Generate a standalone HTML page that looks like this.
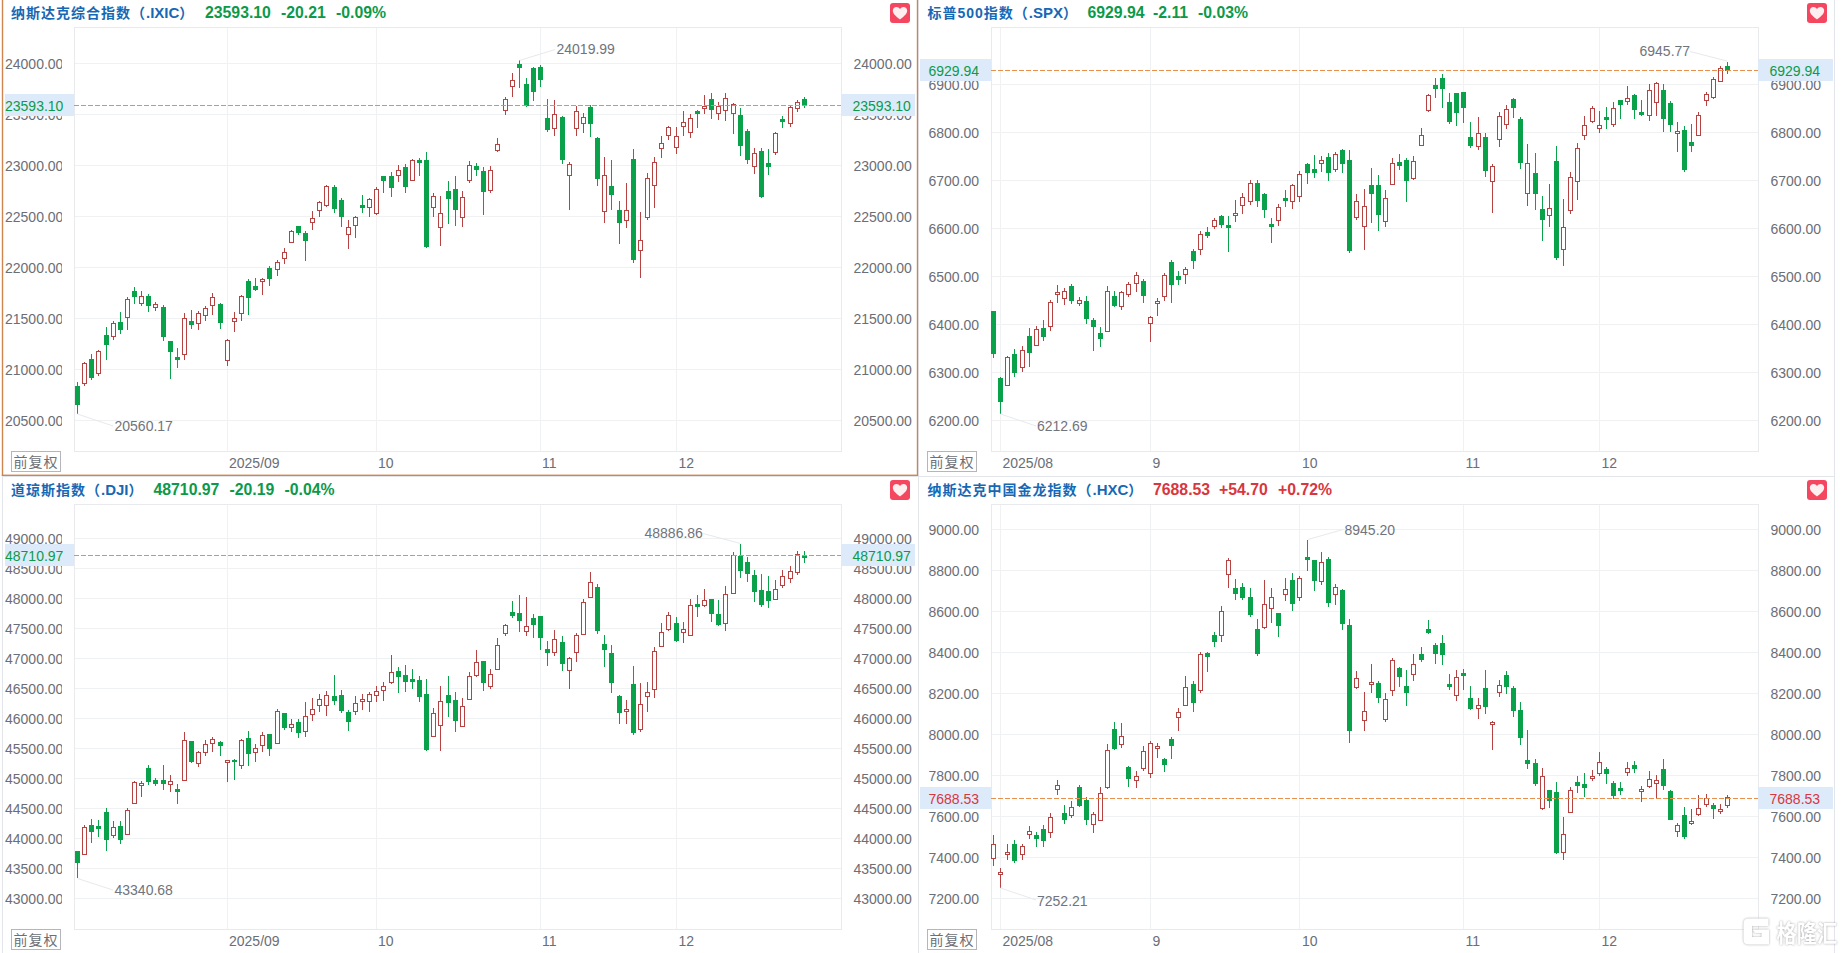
<!DOCTYPE html>
<html lang="zh-CN"><head><meta charset="utf-8"><title>指数K线</title>
<style>
html,body{margin:0;padding:0;background:#fff;}
body{width:1845px;height:953px;overflow:hidden;}
svg{display:block;font-family:"Liberation Sans","Noto Sans CJK SC",sans-serif;}
.ax{font-size:14px;fill:#6b6e76;}
.tt{font-weight:bold;fill:#1768b4;}
.cj{font-size:14px;letter-spacing:1px;}
.la{font-size:15px;}
.pr{font-size:15.8px;font-weight:bold;}
.fq{font-size:14px;letter-spacing:1px;fill:#6c6f75;}
.wm{font-size:23.5px;font-weight:bold;fill:#fff;}
</style></head><body>
<svg width="1845" height="953" viewBox="0 0 1845 953">
<rect width="1845" height="953" fill="#fff"/>
<g shape-rendering="crispEdges">
<rect x="2" y="476" width="1" height="477" fill="#e2e5ea"/>
<rect x="918" y="0" width="1" height="953" fill="#e2e5ea"/>
<rect x="1834" y="0" width="1" height="953" fill="#e2e5ea"/>
<rect x="2" y="476" width="1833" height="1" fill="#e2e5ea"/>
</g>
<g id="p1">
<rect x="74" y="63" width="767" height="1" fill="#f0f1f3"/>
<rect x="74" y="114" width="767" height="1" fill="#f0f1f3"/>
<rect x="74" y="165" width="767" height="1" fill="#f0f1f3"/>
<rect x="74" y="216" width="767" height="1" fill="#f0f1f3"/>
<rect x="74" y="267" width="767" height="1" fill="#f0f1f3"/>
<rect x="74" y="318" width="767" height="1" fill="#f0f1f3"/>
<rect x="74" y="369" width="767" height="1" fill="#f0f1f3"/>
<rect x="74" y="420" width="767" height="1" fill="#f0f1f3"/>
<rect x="227" y="27" width="1" height="424" fill="#f0f1f3"/>
<rect x="376" y="27" width="1" height="424" fill="#f0f1f3"/>
<rect x="540" y="27" width="1" height="424" fill="#f0f1f3"/>
<rect x="676" y="27" width="1" height="424" fill="#f0f1f3"/>
<rect x="74.5" y="27.5" width="767" height="424" fill="none" stroke="#e8eaed" stroke-width="1"/>
<clipPath id="cl1"><rect x="0" y="17" width="62" height="444"/></clipPath>
<g clip-path="url(#cl1)">
<text x="5" y="69" class="ax">24000.00</text>
<text x="5" y="120" class="ax">23500.00</text>
<text x="5" y="171" class="ax">23000.00</text>
<text x="5" y="222" class="ax">22500.00</text>
<text x="5" y="273" class="ax">22000.00</text>
<text x="5" y="324" class="ax">21500.00</text>
<text x="5" y="375" class="ax">21000.00</text>
<text x="5" y="426" class="ax">20500.00</text>
</g>
<text x="853.5" y="69" class="ax">24000.00</text>
<text x="853.5" y="120" class="ax">23500.00</text>
<text x="853.5" y="171" class="ax">23000.00</text>
<text x="853.5" y="222" class="ax">22500.00</text>
<text x="853.5" y="273" class="ax">22000.00</text>
<text x="853.5" y="324" class="ax">21500.00</text>
<text x="853.5" y="375" class="ax">21000.00</text>
<text x="853.5" y="426" class="ax">20500.00</text>
<text x="229" y="467.7" class="ax">2025/09</text>
<text x="378" y="467.7" class="ax">10</text>
<text x="542" y="467.7" class="ax">11</text>
<text x="678.5" y="467.7" class="ax">12</text>
<g shape-rendering="crispEdges">
<rect x="77.0" y="382" width="1" height="32" fill="#0aa14b"/>
<rect x="75.0" y="386" width="5" height="19" fill="#0aa14b"/>
<rect x="84.0" y="362" width="1" height="1" fill="#b64342"/>
<rect x="84.0" y="384" width="1" height="2" fill="#b64342"/>
<rect x="82.5" y="363.5" width="4" height="20" fill="#fff" stroke="#b64342" stroke-width="1"/>
<rect x="91.0" y="354" width="1" height="26" fill="#0aa14b"/>
<rect x="89.0" y="359" width="5" height="19" fill="#0aa14b"/>
<rect x="98.0" y="350" width="1" height="1" fill="#b64342"/>
<rect x="98.0" y="374" width="1" height="2" fill="#b64342"/>
<rect x="96.5" y="351.5" width="4" height="22" fill="#fff" stroke="#b64342" stroke-width="1"/>
<rect x="106.0" y="327" width="1" height="33" fill="#0aa14b"/>
<rect x="104.0" y="335" width="5" height="10" fill="#0aa14b"/>
<rect x="113.0" y="321" width="1" height="2" fill="#b64342"/>
<rect x="113.0" y="337" width="1" height="3" fill="#b64342"/>
<rect x="111.5" y="323.5" width="4" height="13" fill="#fff" stroke="#b64342" stroke-width="1"/>
<rect x="120.0" y="312" width="1" height="22" fill="#0aa14b"/>
<rect x="118.0" y="322" width="5" height="8" fill="#0aa14b"/>
<rect x="127.0" y="297" width="1" height="2" fill="#b64342"/>
<rect x="127.0" y="318" width="1" height="12" fill="#b64342"/>
<rect x="125.5" y="299.5" width="4" height="18" fill="#fff" stroke="#b64342" stroke-width="1"/>
<rect x="134.0" y="287" width="1" height="17" fill="#0aa14b"/>
<rect x="132.0" y="291" width="5" height="6" fill="#0aa14b"/>
<rect x="141.0" y="291" width="1" height="5" fill="#b64342"/>
<rect x="141.0" y="304" width="1" height="2" fill="#b64342"/>
<rect x="139.5" y="296.5" width="4" height="7" fill="#fff" stroke="#b64342" stroke-width="1"/>
<rect x="148.0" y="294" width="1" height="18" fill="#0aa14b"/>
<rect x="146.0" y="296" width="5" height="10" fill="#0aa14b"/>
<rect x="155.0" y="302" width="1" height="2" fill="#b64342"/>
<rect x="155.0" y="308" width="1" height="3" fill="#b64342"/>
<rect x="153.5" y="304.5" width="4" height="3" fill="#fff" stroke="#b64342" stroke-width="1"/>
<rect x="163.0" y="305" width="1" height="36" fill="#0aa14b"/>
<rect x="161.0" y="307" width="5" height="30" fill="#0aa14b"/>
<rect x="170.0" y="341" width="1" height="38" fill="#0aa14b"/>
<rect x="168.0" y="341" width="5" height="11" fill="#0aa14b"/>
<rect x="177.0" y="348" width="1" height="20" fill="#0aa14b"/>
<rect x="175.0" y="357" width="5" height="3" fill="#0aa14b"/>
<rect x="184.0" y="313" width="1" height="5" fill="#b64342"/>
<rect x="184.0" y="355" width="1" height="5" fill="#b64342"/>
<rect x="182.5" y="318.5" width="4" height="36" fill="#fff" stroke="#b64342" stroke-width="1"/>
<rect x="191.0" y="310" width="1" height="19" fill="#0aa14b"/>
<rect x="189.0" y="321" width="5" height="4" fill="#0aa14b"/>
<rect x="198.0" y="311" width="1" height="2" fill="#b64342"/>
<rect x="198.0" y="324" width="1" height="6" fill="#b64342"/>
<rect x="196.5" y="313.5" width="4" height="10" fill="#fff" stroke="#b64342" stroke-width="1"/>
<rect x="205.0" y="306" width="1" height="2" fill="#b64342"/>
<rect x="205.0" y="316" width="1" height="5" fill="#b64342"/>
<rect x="203.5" y="308.5" width="4" height="7" fill="#fff" stroke="#b64342" stroke-width="1"/>
<rect x="212.0" y="293" width="1" height="4" fill="#b64342"/>
<rect x="212.0" y="306" width="1" height="9" fill="#b64342"/>
<rect x="210.5" y="297.5" width="4" height="8" fill="#fff" stroke="#b64342" stroke-width="1"/>
<rect x="220.0" y="303" width="1" height="26" fill="#0aa14b"/>
<rect x="218.0" y="304" width="5" height="19" fill="#0aa14b"/>
<rect x="227.0" y="339" width="1" height="1" fill="#b64342"/>
<rect x="227.0" y="361" width="1" height="5" fill="#b64342"/>
<rect x="225.5" y="340.5" width="4" height="20" fill="#fff" stroke="#b64342" stroke-width="1"/>
<rect x="234.0" y="312" width="1" height="6" fill="#b64342"/>
<rect x="234.0" y="322" width="1" height="10" fill="#b64342"/>
<rect x="232.5" y="318.5" width="4" height="3" fill="#fff" stroke="#b64342" stroke-width="1"/>
<rect x="241.0" y="295" width="1" height="1" fill="#b64342"/>
<rect x="241.0" y="314" width="1" height="7" fill="#b64342"/>
<rect x="239.5" y="296.5" width="4" height="17" fill="#fff" stroke="#b64342" stroke-width="1"/>
<rect x="248.0" y="279" width="1" height="36" fill="#0aa14b"/>
<rect x="246.0" y="281" width="5" height="17" fill="#0aa14b"/>
<rect x="255.0" y="278" width="1" height="13" fill="#0aa14b"/>
<rect x="253.0" y="286" width="5" height="4" fill="#0aa14b"/>
<rect x="262.0" y="278" width="1" height="1" fill="#b64342"/>
<rect x="262.0" y="282" width="1" height="13" fill="#b64342"/>
<rect x="260.5" y="279.5" width="4" height="2" fill="#fff" stroke="#b64342" stroke-width="1"/>
<rect x="269.0" y="266" width="1" height="20" fill="#0aa14b"/>
<rect x="267.0" y="268" width="5" height="11" fill="#0aa14b"/>
<rect x="277.0" y="260" width="1" height="2" fill="#b64342"/>
<rect x="277.0" y="270" width="1" height="6" fill="#b64342"/>
<rect x="275.5" y="262.5" width="4" height="7" fill="#fff" stroke="#b64342" stroke-width="1"/>
<rect x="284.0" y="248" width="1" height="4" fill="#b64342"/>
<rect x="284.0" y="259" width="1" height="5" fill="#b64342"/>
<rect x="282.5" y="252.5" width="4" height="6" fill="#fff" stroke="#b64342" stroke-width="1"/>
<rect x="291.0" y="230" width="1" height="1" fill="#b64342"/>
<rect x="289.5" y="231.5" width="4" height="11" fill="#fff" stroke="#b64342" stroke-width="1"/>
<rect x="298.0" y="226" width="1" height="9" fill="#0aa14b"/>
<rect x="296.0" y="226" width="5" height="7" fill="#0aa14b"/>
<rect x="305.0" y="231" width="1" height="30" fill="#0aa14b"/>
<rect x="303.0" y="233" width="5" height="8" fill="#0aa14b"/>
<rect x="312.0" y="211" width="1" height="7" fill="#b64342"/>
<rect x="312.0" y="223" width="1" height="7" fill="#b64342"/>
<rect x="310.5" y="218.5" width="4" height="4" fill="#fff" stroke="#b64342" stroke-width="1"/>
<rect x="319.0" y="201" width="1" height="1" fill="#b64342"/>
<rect x="319.0" y="211" width="1" height="6" fill="#b64342"/>
<rect x="317.5" y="202.5" width="4" height="8" fill="#fff" stroke="#b64342" stroke-width="1"/>
<rect x="326.0" y="185" width="1" height="1" fill="#b64342"/>
<rect x="326.0" y="206" width="1" height="1" fill="#b64342"/>
<rect x="324.5" y="186.5" width="4" height="19" fill="#fff" stroke="#b64342" stroke-width="1"/>
<rect x="334.0" y="185" width="1" height="28" fill="#0aa14b"/>
<rect x="332.0" y="187" width="5" height="22" fill="#0aa14b"/>
<rect x="341.0" y="198" width="1" height="29" fill="#0aa14b"/>
<rect x="339.0" y="200" width="5" height="17" fill="#0aa14b"/>
<rect x="348.0" y="220" width="1" height="7" fill="#b64342"/>
<rect x="348.0" y="235" width="1" height="14" fill="#b64342"/>
<rect x="346.5" y="227.5" width="4" height="7" fill="#fff" stroke="#b64342" stroke-width="1"/>
<rect x="355.0" y="216" width="1" height="1" fill="#b64342"/>
<rect x="355.0" y="226" width="1" height="12" fill="#b64342"/>
<rect x="353.5" y="217.5" width="4" height="8" fill="#fff" stroke="#b64342" stroke-width="1"/>
<rect x="362.0" y="195" width="1" height="18" fill="#0aa14b"/>
<rect x="360.0" y="205" width="5" height="3" fill="#0aa14b"/>
<rect x="369.0" y="198" width="1" height="1" fill="#b64342"/>
<rect x="369.0" y="208" width="1" height="9" fill="#b64342"/>
<rect x="367.5" y="199.5" width="4" height="8" fill="#fff" stroke="#b64342" stroke-width="1"/>
<rect x="376.0" y="187" width="1" height="2" fill="#b64342"/>
<rect x="376.0" y="214" width="1" height="1" fill="#b64342"/>
<rect x="374.5" y="189.5" width="4" height="24" fill="#fff" stroke="#b64342" stroke-width="1"/>
<rect x="383.0" y="176" width="1" height="17" fill="#0aa14b"/>
<rect x="381.0" y="176" width="5" height="5" fill="#0aa14b"/>
<rect x="391.0" y="172" width="1" height="25" fill="#0aa14b"/>
<rect x="389.0" y="176" width="5" height="12" fill="#0aa14b"/>
<rect x="398.0" y="165" width="1" height="5" fill="#b64342"/>
<rect x="398.0" y="176" width="1" height="6" fill="#b64342"/>
<rect x="396.5" y="170.5" width="4" height="5" fill="#fff" stroke="#b64342" stroke-width="1"/>
<rect x="405.0" y="164" width="1" height="29" fill="#0aa14b"/>
<rect x="403.0" y="167" width="5" height="20" fill="#0aa14b"/>
<rect x="412.0" y="159" width="1" height="1" fill="#b64342"/>
<rect x="410.5" y="160.5" width="4" height="20" fill="#fff" stroke="#b64342" stroke-width="1"/>
<rect x="419.0" y="158" width="1" height="18" fill="#0aa14b"/>
<rect x="417.0" y="160" width="5" height="3" fill="#0aa14b"/>
<rect x="426.0" y="152" width="1" height="96" fill="#0aa14b"/>
<rect x="424.0" y="160" width="5" height="87" fill="#0aa14b"/>
<rect x="433.0" y="193" width="1" height="3" fill="#b64342"/>
<rect x="433.0" y="208" width="1" height="9" fill="#b64342"/>
<rect x="431.5" y="196.5" width="4" height="11" fill="#fff" stroke="#b64342" stroke-width="1"/>
<rect x="440.0" y="196" width="1" height="17" fill="#b64342"/>
<rect x="440.0" y="228" width="1" height="18" fill="#b64342"/>
<rect x="438.5" y="213.5" width="4" height="14" fill="#fff" stroke="#b64342" stroke-width="1"/>
<rect x="448.0" y="181" width="1" height="43" fill="#0aa14b"/>
<rect x="446.0" y="191" width="5" height="8" fill="#0aa14b"/>
<rect x="455.0" y="176" width="1" height="50" fill="#0aa14b"/>
<rect x="453.0" y="189" width="5" height="21" fill="#0aa14b"/>
<rect x="462.0" y="191" width="1" height="6" fill="#b64342"/>
<rect x="462.0" y="218" width="1" height="9" fill="#b64342"/>
<rect x="460.5" y="197.5" width="4" height="20" fill="#fff" stroke="#b64342" stroke-width="1"/>
<rect x="469.0" y="161" width="1" height="4" fill="#b64342"/>
<rect x="469.0" y="181" width="1" height="2" fill="#b64342"/>
<rect x="467.5" y="165.5" width="4" height="15" fill="#fff" stroke="#b64342" stroke-width="1"/>
<rect x="476.0" y="163" width="1" height="13" fill="#0aa14b"/>
<rect x="474.0" y="166" width="5" height="4" fill="#0aa14b"/>
<rect x="483.0" y="167" width="1" height="48" fill="#0aa14b"/>
<rect x="481.0" y="171" width="5" height="21" fill="#0aa14b"/>
<rect x="490.0" y="166" width="1" height="4" fill="#b64342"/>
<rect x="490.0" y="191" width="1" height="2" fill="#b64342"/>
<rect x="488.5" y="170.5" width="4" height="20" fill="#fff" stroke="#b64342" stroke-width="1"/>
<rect x="497.0" y="138" width="1" height="6" fill="#b64342"/>
<rect x="497.0" y="151" width="1" height="1" fill="#b64342"/>
<rect x="495.5" y="144.5" width="4" height="6" fill="#fff" stroke="#b64342" stroke-width="1"/>
<rect x="505.0" y="97" width="1" height="2" fill="#b64342"/>
<rect x="505.0" y="111" width="1" height="4" fill="#b64342"/>
<rect x="503.5" y="99.5" width="4" height="11" fill="#fff" stroke="#b64342" stroke-width="1"/>
<rect x="512.0" y="73" width="1" height="7" fill="#b64342"/>
<rect x="512.0" y="87" width="1" height="10" fill="#b64342"/>
<rect x="510.5" y="80.5" width="4" height="6" fill="#fff" stroke="#b64342" stroke-width="1"/>
<rect x="519.0" y="60" width="1" height="28" fill="#0aa14b"/>
<rect x="517.0" y="64" width="5" height="4" fill="#0aa14b"/>
<rect x="526.0" y="78" width="1" height="29" fill="#0aa14b"/>
<rect x="524.0" y="84" width="5" height="22" fill="#0aa14b"/>
<rect x="533.0" y="67" width="1" height="34" fill="#0aa14b"/>
<rect x="531.0" y="68" width="5" height="24" fill="#0aa14b"/>
<rect x="540.0" y="65" width="1" height="22" fill="#0aa14b"/>
<rect x="538.0" y="67" width="5" height="13" fill="#0aa14b"/>
<rect x="547.0" y="99" width="1" height="33" fill="#0aa14b"/>
<rect x="545.0" y="118" width="5" height="12" fill="#0aa14b"/>
<rect x="554.0" y="100" width="1" height="14" fill="#b64342"/>
<rect x="554.0" y="129" width="1" height="7" fill="#b64342"/>
<rect x="552.5" y="114.5" width="4" height="14" fill="#fff" stroke="#b64342" stroke-width="1"/>
<rect x="562.0" y="116" width="1" height="48" fill="#0aa14b"/>
<rect x="560.0" y="117" width="5" height="43" fill="#0aa14b"/>
<rect x="569.0" y="162" width="1" height="2" fill="#b64342"/>
<rect x="569.0" y="176" width="1" height="34" fill="#b64342"/>
<rect x="567.5" y="164.5" width="4" height="11" fill="#fff" stroke="#b64342" stroke-width="1"/>
<rect x="576.0" y="106" width="1" height="5" fill="#b64342"/>
<rect x="576.0" y="129" width="1" height="7" fill="#b64342"/>
<rect x="574.5" y="111.5" width="4" height="17" fill="#fff" stroke="#b64342" stroke-width="1"/>
<rect x="583.0" y="113" width="1" height="4" fill="#b64342"/>
<rect x="583.0" y="124" width="1" height="9" fill="#b64342"/>
<rect x="581.5" y="117.5" width="4" height="6" fill="#fff" stroke="#b64342" stroke-width="1"/>
<rect x="590.0" y="105" width="1" height="32" fill="#0aa14b"/>
<rect x="588.0" y="107" width="5" height="17" fill="#0aa14b"/>
<rect x="597.0" y="137" width="1" height="49" fill="#0aa14b"/>
<rect x="595.0" y="138" width="5" height="41" fill="#0aa14b"/>
<rect x="604.0" y="157" width="1" height="18" fill="#b64342"/>
<rect x="604.0" y="212" width="1" height="11" fill="#b64342"/>
<rect x="602.5" y="175.5" width="4" height="36" fill="#fff" stroke="#b64342" stroke-width="1"/>
<rect x="611.0" y="160" width="1" height="50" fill="#0aa14b"/>
<rect x="609.0" y="186" width="5" height="9" fill="#0aa14b"/>
<rect x="619.0" y="201" width="1" height="43" fill="#0aa14b"/>
<rect x="617.0" y="210" width="5" height="13" fill="#0aa14b"/>
<rect x="626.0" y="183" width="1" height="27" fill="#b64342"/>
<rect x="626.0" y="221" width="1" height="7" fill="#b64342"/>
<rect x="624.5" y="210.5" width="4" height="10" fill="#fff" stroke="#b64342" stroke-width="1"/>
<rect x="633.0" y="149" width="1" height="114" fill="#0aa14b"/>
<rect x="631.0" y="159" width="5" height="101" fill="#0aa14b"/>
<rect x="640.0" y="212" width="1" height="28" fill="#b64342"/>
<rect x="640.0" y="251" width="1" height="27" fill="#b64342"/>
<rect x="638.5" y="240.5" width="4" height="10" fill="#fff" stroke="#b64342" stroke-width="1"/>
<rect x="647.0" y="173" width="1" height="5" fill="#b64342"/>
<rect x="647.0" y="218" width="1" height="2" fill="#b64342"/>
<rect x="645.5" y="178.5" width="4" height="39" fill="#fff" stroke="#b64342" stroke-width="1"/>
<rect x="654.0" y="157" width="1" height="5" fill="#b64342"/>
<rect x="654.0" y="186" width="1" height="22" fill="#b64342"/>
<rect x="652.5" y="162.5" width="4" height="23" fill="#fff" stroke="#b64342" stroke-width="1"/>
<rect x="661.0" y="136" width="1" height="7" fill="#b64342"/>
<rect x="661.0" y="149" width="1" height="9" fill="#b64342"/>
<rect x="659.5" y="143.5" width="4" height="5" fill="#fff" stroke="#b64342" stroke-width="1"/>
<rect x="668.0" y="126" width="1" height="1" fill="#b64342"/>
<rect x="668.0" y="136" width="1" height="4" fill="#b64342"/>
<rect x="666.5" y="127.5" width="4" height="8" fill="#fff" stroke="#b64342" stroke-width="1"/>
<rect x="676.0" y="127" width="1" height="9" fill="#b64342"/>
<rect x="676.0" y="148" width="1" height="6" fill="#b64342"/>
<rect x="674.5" y="136.5" width="4" height="11" fill="#fff" stroke="#b64342" stroke-width="1"/>
<rect x="683.0" y="111" width="1" height="11" fill="#b64342"/>
<rect x="683.0" y="127" width="1" height="9" fill="#b64342"/>
<rect x="681.5" y="122.5" width="4" height="4" fill="#fff" stroke="#b64342" stroke-width="1"/>
<rect x="690.0" y="114" width="1" height="4" fill="#b64342"/>
<rect x="690.0" y="133" width="1" height="5" fill="#b64342"/>
<rect x="688.5" y="118.5" width="4" height="14" fill="#fff" stroke="#b64342" stroke-width="1"/>
<rect x="697.0" y="110" width="1" height="18" fill="#0aa14b"/>
<rect x="695.0" y="111" width="5" height="3" fill="#0aa14b"/>
<rect x="704.0" y="95" width="1" height="11" fill="#b64342"/>
<rect x="704.0" y="109" width="1" height="5" fill="#b64342"/>
<rect x="702.5" y="106.5" width="4" height="2" fill="#fff" stroke="#b64342" stroke-width="1"/>
<rect x="711.0" y="93" width="1" height="26" fill="#0aa14b"/>
<rect x="709.0" y="99" width="5" height="11" fill="#0aa14b"/>
<rect x="718.0" y="102" width="1" height="4" fill="#b64342"/>
<rect x="718.0" y="114" width="1" height="6" fill="#b64342"/>
<rect x="716.5" y="106.5" width="4" height="7" fill="#fff" stroke="#b64342" stroke-width="1"/>
<rect x="725.0" y="93" width="1" height="5" fill="#b64342"/>
<rect x="725.0" y="111" width="1" height="10" fill="#b64342"/>
<rect x="723.5" y="98.5" width="4" height="12" fill="#fff" stroke="#b64342" stroke-width="1"/>
<rect x="733.0" y="103" width="1" height="1" fill="#b64342"/>
<rect x="733.0" y="114" width="1" height="20" fill="#b64342"/>
<rect x="731.5" y="104.5" width="4" height="9" fill="#fff" stroke="#b64342" stroke-width="1"/>
<rect x="740.0" y="108" width="1" height="48" fill="#0aa14b"/>
<rect x="738.0" y="115" width="5" height="31" fill="#0aa14b"/>
<rect x="747.0" y="129" width="1" height="35" fill="#0aa14b"/>
<rect x="745.0" y="131" width="5" height="29" fill="#0aa14b"/>
<rect x="754.0" y="148" width="1" height="5" fill="#b64342"/>
<rect x="754.0" y="167" width="1" height="7" fill="#b64342"/>
<rect x="752.5" y="153.5" width="4" height="13" fill="#fff" stroke="#b64342" stroke-width="1"/>
<rect x="761.0" y="148" width="1" height="50" fill="#0aa14b"/>
<rect x="759.0" y="151" width="5" height="46" fill="#0aa14b"/>
<rect x="768.0" y="149" width="1" height="26" fill="#0aa14b"/>
<rect x="766.0" y="163" width="5" height="4" fill="#0aa14b"/>
<rect x="775.0" y="132" width="1" height="1" fill="#b64342"/>
<rect x="775.0" y="153" width="1" height="2" fill="#b64342"/>
<rect x="773.5" y="133.5" width="4" height="19" fill="#fff" stroke="#b64342" stroke-width="1"/>
<rect x="782.0" y="116" width="1" height="12" fill="#0aa14b"/>
<rect x="780.0" y="119" width="5" height="3" fill="#0aa14b"/>
<rect x="790.0" y="105" width="1" height="2" fill="#b64342"/>
<rect x="790.0" y="124" width="1" height="3" fill="#b64342"/>
<rect x="788.5" y="107.5" width="4" height="16" fill="#fff" stroke="#b64342" stroke-width="1"/>
<rect x="797.0" y="100" width="1" height="2" fill="#b64342"/>
<rect x="797.0" y="109" width="1" height="3" fill="#b64342"/>
<rect x="795.5" y="102.5" width="4" height="6" fill="#fff" stroke="#b64342" stroke-width="1"/>
<rect x="804.0" y="97" width="1" height="11" fill="#0aa14b"/>
<rect x="802.0" y="99" width="5" height="7" fill="#0aa14b"/>
</g>
<line x1="74" y1="105.5" x2="841" y2="105.5" stroke="#e98f4d" stroke-width="1" stroke-dasharray="5 2" shape-rendering="crispEdges"/>
<rect x="5" y="94" width="69" height="22" fill="#dceafa"/>
<text x="5" y="110.5" class="ax" style="fill:#0c9a4a">23593.10</text>
<rect x="841" y="94" width="74" height="22" fill="#dceafa"/>
<text x="852.5" y="110.5" class="ax" style="fill:#0c9a4a">23593.10</text>
<line x1="519.5" y1="60.5" x2="555" y2="49.5" stroke="#e8e9ec" stroke-width="1"/>
<text x="556.5" y="54" class="ax" style="fill:#70747c">24019.99</text>
<line x1="77.5" y1="414" x2="113" y2="426" stroke="#e8e9ec" stroke-width="1"/>
<text x="114.5" y="430.5" class="ax" style="fill:#70747c">20560.17</text>
<text x="11" y="17.5" class="tt"><tspan class="cj">纳斯达克综合指数（</tspan><tspan class="la">.IXIC</tspan><tspan class="cj">）</tspan></text>
<text x="205" y="18" class="pr" style="fill:#0c9a4a">23593.10</text>
<text x="281" y="18" class="pr" style="fill:#0c9a4a">-20.21</text>
<text x="336" y="18" class="pr" style="fill:#0c9a4a">-0.09%</text>
<rect x="890" y="3" width="20" height="20" rx="3" fill="#f4465f"/>
<path transform="translate(900,13.3)" d="M0 6.2 C-2 4.4 -7.2 1 -7.2 -2.6 C-7.2 -4.9 -5.5 -6.4 -3.6 -6.4 C-2.1 -6.4 -0.8 -5.6 0 -4.3 C0.8 -5.6 2.1 -6.4 3.6 -6.4 C5.5 -6.4 7.2 -4.9 7.2 -2.6 C7.2 1 2 4.4 0 6.2Z" fill="#fdeef0"/>
<rect x="11.5" y="451.5" width="49" height="20" fill="#fff" stroke="#b4b6ba" stroke-width="1" shape-rendering="crispEdges"/>
<text x="13.5" y="467.4" class="fq">前复权</text>
</g>
<g id="p2">
<rect x="991" y="84" width="767" height="1" fill="#f0f1f3"/>
<rect x="991" y="132" width="767" height="1" fill="#f0f1f3"/>
<rect x="991" y="180" width="767" height="1" fill="#f0f1f3"/>
<rect x="991" y="228" width="767" height="1" fill="#f0f1f3"/>
<rect x="991" y="276" width="767" height="1" fill="#f0f1f3"/>
<rect x="991" y="324" width="767" height="1" fill="#f0f1f3"/>
<rect x="991" y="372" width="767" height="1" fill="#f0f1f3"/>
<rect x="991" y="420" width="767" height="1" fill="#f0f1f3"/>
<rect x="1000" y="27" width="1" height="424" fill="#f0f1f3"/>
<rect x="1150" y="27" width="1" height="424" fill="#f0f1f3"/>
<rect x="1299" y="27" width="1" height="424" fill="#f0f1f3"/>
<rect x="1463" y="27" width="1" height="424" fill="#f0f1f3"/>
<rect x="1599" y="27" width="1" height="424" fill="#f0f1f3"/>
<rect x="991.5" y="27.5" width="767" height="424" fill="none" stroke="#e8eaed" stroke-width="1"/>
<g>
<text x="928.5" y="90" class="ax">6900.00</text>
<text x="928.5" y="138" class="ax">6800.00</text>
<text x="928.5" y="186" class="ax">6700.00</text>
<text x="928.5" y="234" class="ax">6600.00</text>
<text x="928.5" y="282" class="ax">6500.00</text>
<text x="928.5" y="330" class="ax">6400.00</text>
<text x="928.5" y="378" class="ax">6300.00</text>
<text x="928.5" y="426" class="ax">6200.00</text>
</g>
<text x="1770.5" y="90" class="ax">6900.00</text>
<text x="1770.5" y="138" class="ax">6800.00</text>
<text x="1770.5" y="186" class="ax">6700.00</text>
<text x="1770.5" y="234" class="ax">6600.00</text>
<text x="1770.5" y="282" class="ax">6500.00</text>
<text x="1770.5" y="330" class="ax">6400.00</text>
<text x="1770.5" y="378" class="ax">6300.00</text>
<text x="1770.5" y="426" class="ax">6200.00</text>
<text x="1002.5" y="467.7" class="ax">2025/08</text>
<text x="1152.5" y="467.7" class="ax">9</text>
<text x="1302" y="467.7" class="ax">10</text>
<text x="1465.5" y="467.7" class="ax">11</text>
<text x="1601.5" y="467.7" class="ax">12</text>
<g shape-rendering="crispEdges">
<rect x="993.0" y="311" width="1" height="47" fill="#0aa14b"/>
<rect x="991.0" y="311" width="5" height="43" fill="#0aa14b"/>
<rect x="1000.0" y="377" width="1" height="37" fill="#0aa14b"/>
<rect x="998.0" y="378" width="5" height="24" fill="#0aa14b"/>
<rect x="1007.0" y="356" width="1" height="1" fill="#b64342"/>
<rect x="1005.5" y="357.5" width="4" height="28" fill="#fff" stroke="#b64342" stroke-width="1"/>
<rect x="1014.0" y="349" width="1" height="28" fill="#0aa14b"/>
<rect x="1012.0" y="354" width="5" height="19" fill="#0aa14b"/>
<rect x="1022.0" y="346" width="1" height="4" fill="#b64342"/>
<rect x="1022.0" y="368" width="1" height="4" fill="#b64342"/>
<rect x="1020.5" y="350.5" width="4" height="17" fill="#fff" stroke="#b64342" stroke-width="1"/>
<rect x="1029.0" y="328" width="1" height="39" fill="#0aa14b"/>
<rect x="1027.0" y="336" width="5" height="17" fill="#0aa14b"/>
<rect x="1036.0" y="326" width="1" height="3" fill="#b64342"/>
<rect x="1034.5" y="329.5" width="4" height="16" fill="#fff" stroke="#b64342" stroke-width="1"/>
<rect x="1043.0" y="320" width="1" height="21" fill="#0aa14b"/>
<rect x="1041.0" y="328" width="5" height="9" fill="#0aa14b"/>
<rect x="1050.0" y="300" width="1" height="2" fill="#b64342"/>
<rect x="1050.0" y="327" width="1" height="4" fill="#b64342"/>
<rect x="1048.5" y="302.5" width="4" height="24" fill="#fff" stroke="#b64342" stroke-width="1"/>
<rect x="1057.0" y="285" width="1" height="7" fill="#b64342"/>
<rect x="1057.0" y="295" width="1" height="8" fill="#b64342"/>
<rect x="1055.5" y="292.5" width="4" height="2" fill="#fff" stroke="#b64342" stroke-width="1"/>
<rect x="1064.0" y="288" width="1" height="3" fill="#b64342"/>
<rect x="1064.0" y="299" width="1" height="6" fill="#b64342"/>
<rect x="1062.5" y="291.5" width="4" height="7" fill="#fff" stroke="#b64342" stroke-width="1"/>
<rect x="1071.0" y="284" width="1" height="20" fill="#0aa14b"/>
<rect x="1069.0" y="286" width="5" height="15" fill="#0aa14b"/>
<rect x="1079.0" y="297" width="1" height="3" fill="#b64342"/>
<rect x="1079.0" y="304" width="1" height="2" fill="#b64342"/>
<rect x="1077.5" y="300.5" width="4" height="3" fill="#fff" stroke="#b64342" stroke-width="1"/>
<rect x="1086.0" y="296" width="1" height="28" fill="#0aa14b"/>
<rect x="1084.0" y="301" width="5" height="18" fill="#0aa14b"/>
<rect x="1093.0" y="318" width="1" height="33" fill="#0aa14b"/>
<rect x="1091.0" y="320" width="5" height="7" fill="#0aa14b"/>
<rect x="1100.0" y="327" width="1" height="20" fill="#0aa14b"/>
<rect x="1098.0" y="333" width="5" height="6" fill="#0aa14b"/>
<rect x="1107.0" y="286" width="1" height="5" fill="#b64342"/>
<rect x="1105.5" y="291.5" width="4" height="40" fill="#fff" stroke="#b64342" stroke-width="1"/>
<rect x="1114.0" y="291" width="1" height="16" fill="#0aa14b"/>
<rect x="1112.0" y="296" width="5" height="10" fill="#0aa14b"/>
<rect x="1121.0" y="291" width="1" height="1" fill="#b64342"/>
<rect x="1121.0" y="307" width="1" height="3" fill="#b64342"/>
<rect x="1119.5" y="292.5" width="4" height="14" fill="#fff" stroke="#b64342" stroke-width="1"/>
<rect x="1128.0" y="282" width="1" height="2" fill="#b64342"/>
<rect x="1128.0" y="295" width="1" height="2" fill="#b64342"/>
<rect x="1126.5" y="284.5" width="4" height="10" fill="#fff" stroke="#b64342" stroke-width="1"/>
<rect x="1136.0" y="272" width="1" height="3" fill="#b64342"/>
<rect x="1136.0" y="284" width="1" height="8" fill="#b64342"/>
<rect x="1134.5" y="275.5" width="4" height="8" fill="#fff" stroke="#b64342" stroke-width="1"/>
<rect x="1143.0" y="279" width="1" height="24" fill="#0aa14b"/>
<rect x="1141.0" y="281" width="5" height="15" fill="#0aa14b"/>
<rect x="1150.0" y="316" width="1" height="1" fill="#b64342"/>
<rect x="1150.0" y="324" width="1" height="18" fill="#b64342"/>
<rect x="1148.5" y="317.5" width="4" height="6" fill="#fff" stroke="#b64342" stroke-width="1"/>
<rect x="1157.0" y="298" width="1" height="3" fill="#b64342"/>
<rect x="1157.0" y="304" width="1" height="12" fill="#b64342"/>
<rect x="1155.5" y="301.5" width="4" height="2" fill="#fff" stroke="#b64342" stroke-width="1"/>
<rect x="1164.0" y="273" width="1" height="2" fill="#b64342"/>
<rect x="1164.0" y="297" width="1" height="4" fill="#b64342"/>
<rect x="1162.5" y="275.5" width="4" height="21" fill="#fff" stroke="#b64342" stroke-width="1"/>
<rect x="1171.0" y="260" width="1" height="43" fill="#0aa14b"/>
<rect x="1169.0" y="262" width="5" height="23" fill="#0aa14b"/>
<rect x="1178.0" y="271" width="1" height="14" fill="#0aa14b"/>
<rect x="1176.0" y="276" width="5" height="4" fill="#0aa14b"/>
<rect x="1185.0" y="267" width="1" height="2" fill="#b64342"/>
<rect x="1185.0" y="275" width="1" height="9" fill="#b64342"/>
<rect x="1183.5" y="269.5" width="4" height="5" fill="#fff" stroke="#b64342" stroke-width="1"/>
<rect x="1193.0" y="249" width="1" height="20" fill="#0aa14b"/>
<rect x="1191.0" y="251" width="5" height="10" fill="#0aa14b"/>
<rect x="1200.0" y="231" width="1" height="3" fill="#b64342"/>
<rect x="1200.0" y="250" width="1" height="5" fill="#b64342"/>
<rect x="1198.5" y="234.5" width="4" height="15" fill="#fff" stroke="#b64342" stroke-width="1"/>
<rect x="1207.0" y="227" width="1" height="11" fill="#0aa14b"/>
<rect x="1205.0" y="232" width="5" height="4" fill="#0aa14b"/>
<rect x="1214.0" y="218" width="1" height="2" fill="#b64342"/>
<rect x="1214.0" y="227" width="1" height="2" fill="#b64342"/>
<rect x="1212.5" y="220.5" width="4" height="6" fill="#fff" stroke="#b64342" stroke-width="1"/>
<rect x="1221.0" y="215" width="1" height="13" fill="#0aa14b"/>
<rect x="1219.0" y="216" width="5" height="9" fill="#0aa14b"/>
<rect x="1228.0" y="216" width="1" height="36" fill="#0aa14b"/>
<rect x="1226.0" y="225" width="5" height="3" fill="#0aa14b"/>
<rect x="1235.0" y="200" width="1" height="13" fill="#b64342"/>
<rect x="1235.0" y="216" width="1" height="6" fill="#b64342"/>
<rect x="1233.5" y="213.5" width="4" height="2" fill="#fff" stroke="#b64342" stroke-width="1"/>
<rect x="1242.0" y="193" width="1" height="4" fill="#b64342"/>
<rect x="1242.0" y="206" width="1" height="8" fill="#b64342"/>
<rect x="1240.5" y="197.5" width="4" height="8" fill="#fff" stroke="#b64342" stroke-width="1"/>
<rect x="1250.0" y="180" width="1" height="3" fill="#b64342"/>
<rect x="1250.0" y="202" width="1" height="3" fill="#b64342"/>
<rect x="1248.5" y="183.5" width="4" height="18" fill="#fff" stroke="#b64342" stroke-width="1"/>
<rect x="1257.0" y="180" width="1" height="27" fill="#0aa14b"/>
<rect x="1255.0" y="183" width="5" height="18" fill="#0aa14b"/>
<rect x="1264.0" y="193" width="1" height="25" fill="#0aa14b"/>
<rect x="1262.0" y="194" width="5" height="16" fill="#0aa14b"/>
<rect x="1271.0" y="218" width="1" height="25" fill="#0aa14b"/>
<rect x="1269.0" y="224" width="5" height="3" fill="#0aa14b"/>
<rect x="1278.0" y="204" width="1" height="3" fill="#b64342"/>
<rect x="1278.0" y="221" width="1" height="5" fill="#b64342"/>
<rect x="1276.5" y="207.5" width="4" height="13" fill="#fff" stroke="#b64342" stroke-width="1"/>
<rect x="1285.0" y="190" width="1" height="17" fill="#0aa14b"/>
<rect x="1283.0" y="198" width="5" height="3" fill="#0aa14b"/>
<rect x="1292.0" y="184" width="1" height="1" fill="#b64342"/>
<rect x="1292.0" y="202" width="1" height="7" fill="#b64342"/>
<rect x="1290.5" y="185.5" width="4" height="16" fill="#fff" stroke="#b64342" stroke-width="1"/>
<rect x="1299.0" y="171" width="1" height="3" fill="#b64342"/>
<rect x="1299.0" y="197" width="1" height="5" fill="#b64342"/>
<rect x="1297.5" y="174.5" width="4" height="22" fill="#fff" stroke="#b64342" stroke-width="1"/>
<rect x="1307.0" y="163" width="1" height="21" fill="#0aa14b"/>
<rect x="1305.0" y="164" width="5" height="9" fill="#0aa14b"/>
<rect x="1314.0" y="155" width="1" height="23" fill="#0aa14b"/>
<rect x="1312.0" y="169" width="5" height="4" fill="#0aa14b"/>
<rect x="1321.0" y="156" width="1" height="4" fill="#b64342"/>
<rect x="1321.0" y="164" width="1" height="8" fill="#b64342"/>
<rect x="1319.5" y="160.5" width="4" height="3" fill="#fff" stroke="#b64342" stroke-width="1"/>
<rect x="1328.0" y="153" width="1" height="28" fill="#0aa14b"/>
<rect x="1326.0" y="157" width="5" height="16" fill="#0aa14b"/>
<rect x="1335.0" y="152" width="1" height="2" fill="#b64342"/>
<rect x="1335.0" y="170" width="1" height="2" fill="#b64342"/>
<rect x="1333.5" y="154.5" width="4" height="15" fill="#fff" stroke="#b64342" stroke-width="1"/>
<rect x="1342.0" y="149" width="1" height="24" fill="#0aa14b"/>
<rect x="1340.0" y="150" width="5" height="14" fill="#0aa14b"/>
<rect x="1349.0" y="150" width="1" height="103" fill="#0aa14b"/>
<rect x="1347.0" y="160" width="5" height="91" fill="#0aa14b"/>
<rect x="1356.0" y="194" width="1" height="7" fill="#b64342"/>
<rect x="1356.0" y="218" width="1" height="2" fill="#b64342"/>
<rect x="1354.5" y="201.5" width="4" height="16" fill="#fff" stroke="#b64342" stroke-width="1"/>
<rect x="1364.0" y="189" width="1" height="17" fill="#b64342"/>
<rect x="1364.0" y="227" width="1" height="23" fill="#b64342"/>
<rect x="1362.5" y="206.5" width="4" height="20" fill="#fff" stroke="#b64342" stroke-width="1"/>
<rect x="1371.0" y="168" width="1" height="55" fill="#0aa14b"/>
<rect x="1369.0" y="185" width="5" height="9" fill="#0aa14b"/>
<rect x="1378.0" y="175" width="1" height="56" fill="#0aa14b"/>
<rect x="1376.0" y="185" width="5" height="30" fill="#0aa14b"/>
<rect x="1385.0" y="190" width="1" height="8" fill="#b64342"/>
<rect x="1385.0" y="222" width="1" height="5" fill="#b64342"/>
<rect x="1383.5" y="198.5" width="4" height="23" fill="#fff" stroke="#b64342" stroke-width="1"/>
<rect x="1392.0" y="158" width="1" height="5" fill="#b64342"/>
<rect x="1390.5" y="163.5" width="4" height="21" fill="#fff" stroke="#b64342" stroke-width="1"/>
<rect x="1399.0" y="154" width="1" height="16" fill="#0aa14b"/>
<rect x="1397.0" y="162" width="5" height="4" fill="#0aa14b"/>
<rect x="1406.0" y="158" width="1" height="44" fill="#0aa14b"/>
<rect x="1404.0" y="160" width="5" height="21" fill="#0aa14b"/>
<rect x="1413.0" y="156" width="1" height="5" fill="#b64342"/>
<rect x="1413.0" y="179" width="1" height="1" fill="#b64342"/>
<rect x="1411.5" y="161.5" width="4" height="17" fill="#fff" stroke="#b64342" stroke-width="1"/>
<rect x="1421.0" y="128" width="1" height="7" fill="#b64342"/>
<rect x="1419.5" y="135.5" width="4" height="10" fill="#fff" stroke="#b64342" stroke-width="1"/>
<rect x="1428.0" y="94" width="1" height="1" fill="#b64342"/>
<rect x="1428.0" y="111" width="1" height="1" fill="#b64342"/>
<rect x="1426.5" y="95.5" width="4" height="15" fill="#fff" stroke="#b64342" stroke-width="1"/>
<rect x="1435.0" y="78" width="1" height="20" fill="#0aa14b"/>
<rect x="1433.0" y="85" width="5" height="4" fill="#0aa14b"/>
<rect x="1442.0" y="74" width="1" height="34" fill="#0aa14b"/>
<rect x="1440.0" y="78" width="5" height="11" fill="#0aa14b"/>
<rect x="1449.0" y="93" width="1" height="31" fill="#0aa14b"/>
<rect x="1447.0" y="102" width="5" height="20" fill="#0aa14b"/>
<rect x="1456.0" y="93" width="1" height="33" fill="#0aa14b"/>
<rect x="1454.0" y="93" width="5" height="20" fill="#0aa14b"/>
<rect x="1463.0" y="92" width="1" height="31" fill="#0aa14b"/>
<rect x="1461.0" y="92" width="5" height="16" fill="#0aa14b"/>
<rect x="1470.0" y="122" width="1" height="26" fill="#0aa14b"/>
<rect x="1468.0" y="137" width="5" height="9" fill="#0aa14b"/>
<rect x="1478.0" y="117" width="1" height="16" fill="#b64342"/>
<rect x="1478.0" y="147" width="1" height="3" fill="#b64342"/>
<rect x="1476.5" y="133.5" width="4" height="13" fill="#fff" stroke="#b64342" stroke-width="1"/>
<rect x="1485.0" y="133" width="1" height="44" fill="#0aa14b"/>
<rect x="1483.0" y="137" width="5" height="34" fill="#0aa14b"/>
<rect x="1492.0" y="164" width="1" height="2" fill="#b64342"/>
<rect x="1492.0" y="182" width="1" height="31" fill="#b64342"/>
<rect x="1490.5" y="166.5" width="4" height="15" fill="#fff" stroke="#b64342" stroke-width="1"/>
<rect x="1499.0" y="112" width="1" height="4" fill="#b64342"/>
<rect x="1499.0" y="140" width="1" height="7" fill="#b64342"/>
<rect x="1497.5" y="116.5" width="4" height="23" fill="#fff" stroke="#b64342" stroke-width="1"/>
<rect x="1506.0" y="105" width="1" height="4" fill="#b64342"/>
<rect x="1506.0" y="125" width="1" height="4" fill="#b64342"/>
<rect x="1504.5" y="109.5" width="4" height="15" fill="#fff" stroke="#b64342" stroke-width="1"/>
<rect x="1513.0" y="98" width="1" height="20" fill="#0aa14b"/>
<rect x="1511.0" y="99" width="5" height="9" fill="#0aa14b"/>
<rect x="1520.0" y="117" width="1" height="52" fill="#0aa14b"/>
<rect x="1518.0" y="119" width="5" height="44" fill="#0aa14b"/>
<rect x="1527.0" y="144" width="1" height="19" fill="#b64342"/>
<rect x="1527.0" y="194" width="1" height="12" fill="#b64342"/>
<rect x="1525.5" y="163.5" width="4" height="30" fill="#fff" stroke="#b64342" stroke-width="1"/>
<rect x="1535.0" y="153" width="1" height="57" fill="#0aa14b"/>
<rect x="1533.0" y="173" width="5" height="21" fill="#0aa14b"/>
<rect x="1542.0" y="196" width="1" height="45" fill="#0aa14b"/>
<rect x="1540.0" y="209" width="5" height="11" fill="#0aa14b"/>
<rect x="1549.0" y="184" width="1" height="24" fill="#b64342"/>
<rect x="1549.0" y="216" width="1" height="11" fill="#b64342"/>
<rect x="1547.5" y="208.5" width="4" height="7" fill="#fff" stroke="#b64342" stroke-width="1"/>
<rect x="1556.0" y="146" width="1" height="114" fill="#0aa14b"/>
<rect x="1554.0" y="161" width="5" height="97" fill="#0aa14b"/>
<rect x="1563.0" y="199" width="1" height="28" fill="#b64342"/>
<rect x="1563.0" y="250" width="1" height="16" fill="#b64342"/>
<rect x="1561.5" y="227.5" width="4" height="22" fill="#fff" stroke="#b64342" stroke-width="1"/>
<rect x="1570.0" y="172" width="1" height="5" fill="#b64342"/>
<rect x="1570.0" y="211" width="1" height="3" fill="#b64342"/>
<rect x="1568.5" y="177.5" width="4" height="33" fill="#fff" stroke="#b64342" stroke-width="1"/>
<rect x="1577.0" y="143" width="1" height="5" fill="#b64342"/>
<rect x="1577.0" y="182" width="1" height="18" fill="#b64342"/>
<rect x="1575.5" y="148.5" width="4" height="33" fill="#fff" stroke="#b64342" stroke-width="1"/>
<rect x="1584.0" y="116" width="1" height="9" fill="#b64342"/>
<rect x="1584.0" y="136" width="1" height="4" fill="#b64342"/>
<rect x="1582.5" y="125.5" width="4" height="10" fill="#fff" stroke="#b64342" stroke-width="1"/>
<rect x="1592.0" y="106" width="1" height="2" fill="#b64342"/>
<rect x="1592.0" y="122" width="1" height="1" fill="#b64342"/>
<rect x="1590.5" y="108.5" width="4" height="13" fill="#fff" stroke="#b64342" stroke-width="1"/>
<rect x="1599.0" y="111" width="1" height="14" fill="#b64342"/>
<rect x="1599.0" y="129" width="1" height="4" fill="#b64342"/>
<rect x="1597.5" y="125.5" width="4" height="3" fill="#fff" stroke="#b64342" stroke-width="1"/>
<rect x="1606.0" y="107" width="1" height="22" fill="#0aa14b"/>
<rect x="1604.0" y="117" width="5" height="3" fill="#0aa14b"/>
<rect x="1613.0" y="102" width="1" height="6" fill="#b64342"/>
<rect x="1613.0" y="125" width="1" height="2" fill="#b64342"/>
<rect x="1611.5" y="108.5" width="4" height="16" fill="#fff" stroke="#b64342" stroke-width="1"/>
<rect x="1620.0" y="100" width="1" height="19" fill="#0aa14b"/>
<rect x="1618.0" y="100" width="5" height="5" fill="#0aa14b"/>
<rect x="1627.0" y="86" width="1" height="12" fill="#b64342"/>
<rect x="1627.0" y="102" width="1" height="3" fill="#b64342"/>
<rect x="1625.5" y="98.5" width="4" height="3" fill="#fff" stroke="#b64342" stroke-width="1"/>
<rect x="1634.0" y="94" width="1" height="25" fill="#0aa14b"/>
<rect x="1632.0" y="95" width="5" height="15" fill="#0aa14b"/>
<rect x="1641.0" y="100" width="1" height="16" fill="#0aa14b"/>
<rect x="1639.0" y="112" width="5" height="3" fill="#0aa14b"/>
<rect x="1649.0" y="84" width="1" height="6" fill="#b64342"/>
<rect x="1649.0" y="116" width="1" height="5" fill="#b64342"/>
<rect x="1647.5" y="90.5" width="4" height="25" fill="#fff" stroke="#b64342" stroke-width="1"/>
<rect x="1656.0" y="82" width="1" height="1" fill="#b64342"/>
<rect x="1656.0" y="103" width="1" height="13" fill="#b64342"/>
<rect x="1654.5" y="83.5" width="4" height="19" fill="#fff" stroke="#b64342" stroke-width="1"/>
<rect x="1663.0" y="84" width="1" height="48" fill="#0aa14b"/>
<rect x="1661.0" y="90" width="5" height="29" fill="#0aa14b"/>
<rect x="1670.0" y="101" width="1" height="31" fill="#0aa14b"/>
<rect x="1668.0" y="103" width="5" height="22" fill="#0aa14b"/>
<rect x="1677.0" y="122" width="1" height="9" fill="#b64342"/>
<rect x="1677.0" y="134" width="1" height="18" fill="#b64342"/>
<rect x="1675.5" y="131.5" width="4" height="2" fill="#fff" stroke="#b64342" stroke-width="1"/>
<rect x="1684.0" y="126" width="1" height="46" fill="#0aa14b"/>
<rect x="1682.0" y="130" width="5" height="40" fill="#0aa14b"/>
<rect x="1691.0" y="124" width="1" height="28" fill="#0aa14b"/>
<rect x="1689.0" y="142" width="5" height="4" fill="#0aa14b"/>
<rect x="1698.0" y="112" width="1" height="3" fill="#b64342"/>
<rect x="1696.5" y="115.5" width="4" height="20" fill="#fff" stroke="#b64342" stroke-width="1"/>
<rect x="1706.0" y="92" width="1" height="2" fill="#b64342"/>
<rect x="1706.0" y="101" width="1" height="5" fill="#b64342"/>
<rect x="1704.5" y="94.5" width="4" height="6" fill="#fff" stroke="#b64342" stroke-width="1"/>
<rect x="1713.0" y="77" width="1" height="2" fill="#b64342"/>
<rect x="1713.0" y="98" width="1" height="1" fill="#b64342"/>
<rect x="1711.5" y="79.5" width="4" height="18" fill="#fff" stroke="#b64342" stroke-width="1"/>
<rect x="1720.0" y="66" width="1" height="2" fill="#b64342"/>
<rect x="1718.5" y="68.5" width="4" height="13" fill="#fff" stroke="#b64342" stroke-width="1"/>
<rect x="1727.0" y="62" width="1" height="12" fill="#0aa14b"/>
<rect x="1725.0" y="66" width="5" height="5" fill="#0aa14b"/>
</g>
<line x1="991" y1="70.5" x2="1758" y2="70.5" stroke="#e98f4d" stroke-width="1" stroke-dasharray="5 2" shape-rendering="crispEdges"/>
<rect x="920" y="59" width="71" height="22" fill="#dceafa"/>
<text x="928.5" y="75.5" class="ax" style="fill:#0c9a4a">6929.94</text>
<rect x="1758" y="59" width="75" height="22" fill="#dceafa"/>
<text x="1769.5" y="75.5" class="ax" style="fill:#0c9a4a">6929.94</text>
<line x1="1690" y1="51.5" x2="1727" y2="61" stroke="#e8e9ec" stroke-width="1"/>
<text x="1639.5" y="56" class="ax" style="fill:#70747c">6945.77</text>
<line x1="1000.5" y1="414" x2="1036" y2="426" stroke="#e8e9ec" stroke-width="1"/>
<text x="1037" y="430.5" class="ax" style="fill:#70747c">6212.69</text>
<text x="927.5" y="17.5" class="tt"><tspan class="cj">标普500指数（</tspan><tspan class="la">.SPX</tspan><tspan class="cj">）</tspan></text>
<text x="1087.5" y="18" class="pr" style="fill:#0c9a4a">6929.94</text>
<text x="1153" y="18" class="pr" style="fill:#0c9a4a">-2.11</text>
<text x="1198" y="18" class="pr" style="fill:#0c9a4a">-0.03%</text>
<rect x="1807" y="3" width="20" height="20" rx="3" fill="#f4465f"/>
<path transform="translate(1817,13.3)" d="M0 6.2 C-2 4.4 -7.2 1 -7.2 -2.6 C-7.2 -4.9 -5.5 -6.4 -3.6 -6.4 C-2.1 -6.4 -0.8 -5.6 0 -4.3 C0.8 -5.6 2.1 -6.4 3.6 -6.4 C5.5 -6.4 7.2 -4.9 7.2 -2.6 C7.2 1 2 4.4 0 6.2Z" fill="#fdeef0"/>
<rect x="927.5" y="451.5" width="49" height="20" fill="#fff" stroke="#b4b6ba" stroke-width="1" shape-rendering="crispEdges"/>
<text x="929.5" y="467.4" class="fq">前复权</text>
</g>
<g id="p3">
<rect x="74" y="538" width="767" height="1" fill="#f0f1f3"/>
<rect x="74" y="568" width="767" height="1" fill="#f0f1f3"/>
<rect x="74" y="598" width="767" height="1" fill="#f0f1f3"/>
<rect x="74" y="628" width="767" height="1" fill="#f0f1f3"/>
<rect x="74" y="658" width="767" height="1" fill="#f0f1f3"/>
<rect x="74" y="688" width="767" height="1" fill="#f0f1f3"/>
<rect x="74" y="718" width="767" height="1" fill="#f0f1f3"/>
<rect x="74" y="748" width="767" height="1" fill="#f0f1f3"/>
<rect x="74" y="778" width="767" height="1" fill="#f0f1f3"/>
<rect x="74" y="808" width="767" height="1" fill="#f0f1f3"/>
<rect x="74" y="838" width="767" height="1" fill="#f0f1f3"/>
<rect x="74" y="868" width="767" height="1" fill="#f0f1f3"/>
<rect x="74" y="898" width="767" height="1" fill="#f0f1f3"/>
<rect x="227" y="504" width="1" height="425" fill="#f0f1f3"/>
<rect x="376" y="504" width="1" height="425" fill="#f0f1f3"/>
<rect x="540" y="504" width="1" height="425" fill="#f0f1f3"/>
<rect x="676" y="504" width="1" height="425" fill="#f0f1f3"/>
<rect x="74.5" y="504.5" width="767" height="425" fill="none" stroke="#e8eaed" stroke-width="1"/>
<clipPath id="cl3"><rect x="0" y="494" width="62" height="445"/></clipPath>
<g clip-path="url(#cl3)">
<text x="5" y="544" class="ax">49000.00</text>
<text x="5" y="574" class="ax">48500.00</text>
<text x="5" y="604" class="ax">48000.00</text>
<text x="5" y="634" class="ax">47500.00</text>
<text x="5" y="664" class="ax">47000.00</text>
<text x="5" y="694" class="ax">46500.00</text>
<text x="5" y="724" class="ax">46000.00</text>
<text x="5" y="754" class="ax">45500.00</text>
<text x="5" y="784" class="ax">45000.00</text>
<text x="5" y="814" class="ax">44500.00</text>
<text x="5" y="844" class="ax">44000.00</text>
<text x="5" y="874" class="ax">43500.00</text>
<text x="5" y="904" class="ax">43000.00</text>
</g>
<text x="853.5" y="544" class="ax">49000.00</text>
<text x="853.5" y="574" class="ax">48500.00</text>
<text x="853.5" y="604" class="ax">48000.00</text>
<text x="853.5" y="634" class="ax">47500.00</text>
<text x="853.5" y="664" class="ax">47000.00</text>
<text x="853.5" y="694" class="ax">46500.00</text>
<text x="853.5" y="724" class="ax">46000.00</text>
<text x="853.5" y="754" class="ax">45500.00</text>
<text x="853.5" y="784" class="ax">45000.00</text>
<text x="853.5" y="814" class="ax">44500.00</text>
<text x="853.5" y="844" class="ax">44000.00</text>
<text x="853.5" y="874" class="ax">43500.00</text>
<text x="853.5" y="904" class="ax">43000.00</text>
<text x="229" y="945.7" class="ax">2025/09</text>
<text x="378" y="945.7" class="ax">10</text>
<text x="542" y="945.7" class="ax">11</text>
<text x="678.5" y="945.7" class="ax">12</text>
<g shape-rendering="crispEdges">
<rect x="77.0" y="851" width="1" height="27" fill="#0aa14b"/>
<rect x="75.0" y="851" width="5" height="12" fill="#0aa14b"/>
<rect x="84.0" y="825" width="1" height="2" fill="#b64342"/>
<rect x="82.5" y="827.5" width="4" height="27" fill="#fff" stroke="#b64342" stroke-width="1"/>
<rect x="91.0" y="819" width="1" height="24" fill="#0aa14b"/>
<rect x="89.0" y="825" width="5" height="7" fill="#0aa14b"/>
<rect x="98.0" y="820" width="1" height="17" fill="#0aa14b"/>
<rect x="96.0" y="826" width="5" height="3" fill="#0aa14b"/>
<rect x="106.0" y="808" width="1" height="43" fill="#0aa14b"/>
<rect x="104.0" y="812" width="5" height="28" fill="#0aa14b"/>
<rect x="113.0" y="821" width="1" height="6" fill="#b64342"/>
<rect x="113.0" y="836" width="1" height="2" fill="#b64342"/>
<rect x="111.5" y="827.5" width="4" height="8" fill="#fff" stroke="#b64342" stroke-width="1"/>
<rect x="120.0" y="821" width="1" height="23" fill="#0aa14b"/>
<rect x="118.0" y="826" width="5" height="14" fill="#0aa14b"/>
<rect x="127.0" y="808" width="1" height="2" fill="#b64342"/>
<rect x="125.5" y="810.5" width="4" height="24" fill="#fff" stroke="#b64342" stroke-width="1"/>
<rect x="134.0" y="781" width="1" height="1" fill="#b64342"/>
<rect x="132.5" y="782.5" width="4" height="21" fill="#fff" stroke="#b64342" stroke-width="1"/>
<rect x="141.0" y="781" width="1" height="2" fill="#b64342"/>
<rect x="141.0" y="786" width="1" height="11" fill="#b64342"/>
<rect x="139.5" y="783.5" width="4" height="2" fill="#fff" stroke="#b64342" stroke-width="1"/>
<rect x="148.0" y="765" width="1" height="20" fill="#0aa14b"/>
<rect x="146.0" y="768" width="5" height="14" fill="#0aa14b"/>
<rect x="155.0" y="778" width="1" height="8" fill="#0aa14b"/>
<rect x="153.0" y="780" width="5" height="4" fill="#0aa14b"/>
<rect x="163.0" y="765" width="1" height="25" fill="#0aa14b"/>
<rect x="161.0" y="780" width="5" height="4" fill="#0aa14b"/>
<rect x="170.0" y="775" width="1" height="6" fill="#b64342"/>
<rect x="170.0" y="785" width="1" height="7" fill="#b64342"/>
<rect x="168.5" y="781.5" width="4" height="3" fill="#fff" stroke="#b64342" stroke-width="1"/>
<rect x="177.0" y="784" width="1" height="20" fill="#0aa14b"/>
<rect x="175.0" y="789" width="5" height="3" fill="#0aa14b"/>
<rect x="184.0" y="732" width="1" height="8" fill="#b64342"/>
<rect x="182.5" y="740.5" width="4" height="40" fill="#fff" stroke="#b64342" stroke-width="1"/>
<rect x="191.0" y="741" width="1" height="22" fill="#0aa14b"/>
<rect x="189.0" y="741" width="5" height="21" fill="#0aa14b"/>
<rect x="198.0" y="751" width="1" height="1" fill="#b64342"/>
<rect x="198.0" y="764" width="1" height="3" fill="#b64342"/>
<rect x="196.5" y="752.5" width="4" height="11" fill="#fff" stroke="#b64342" stroke-width="1"/>
<rect x="205.0" y="740" width="1" height="4" fill="#b64342"/>
<rect x="205.0" y="753" width="1" height="3" fill="#b64342"/>
<rect x="203.5" y="744.5" width="4" height="8" fill="#fff" stroke="#b64342" stroke-width="1"/>
<rect x="212.0" y="737" width="1" height="2" fill="#b64342"/>
<rect x="212.0" y="744" width="1" height="8" fill="#b64342"/>
<rect x="210.5" y="739.5" width="4" height="4" fill="#fff" stroke="#b64342" stroke-width="1"/>
<rect x="220.0" y="741" width="1" height="15" fill="#0aa14b"/>
<rect x="218.0" y="742" width="5" height="4" fill="#0aa14b"/>
<rect x="227.0" y="763" width="1" height="19" fill="#b64342"/>
<rect x="225.5" y="760.5" width="4" height="2" fill="#fff" stroke="#b64342" stroke-width="1"/>
<rect x="234.0" y="759" width="1" height="21" fill="#0aa14b"/>
<rect x="232.0" y="760" width="5" height="2" fill="#0aa14b"/>
<rect x="241.0" y="739" width="1" height="1" fill="#b64342"/>
<rect x="241.0" y="766" width="1" height="3" fill="#b64342"/>
<rect x="239.5" y="740.5" width="4" height="25" fill="#fff" stroke="#b64342" stroke-width="1"/>
<rect x="248.0" y="731" width="1" height="35" fill="#0aa14b"/>
<rect x="246.0" y="738" width="5" height="16" fill="#0aa14b"/>
<rect x="255.0" y="744" width="1" height="4" fill="#b64342"/>
<rect x="255.0" y="753" width="1" height="9" fill="#b64342"/>
<rect x="253.5" y="748.5" width="4" height="4" fill="#fff" stroke="#b64342" stroke-width="1"/>
<rect x="262.0" y="732" width="1" height="3" fill="#b64342"/>
<rect x="262.0" y="746" width="1" height="6" fill="#b64342"/>
<rect x="260.5" y="735.5" width="4" height="10" fill="#fff" stroke="#b64342" stroke-width="1"/>
<rect x="269.0" y="734" width="1" height="22" fill="#0aa14b"/>
<rect x="267.0" y="734" width="5" height="15" fill="#0aa14b"/>
<rect x="277.0" y="709" width="1" height="2" fill="#b64342"/>
<rect x="275.5" y="711.5" width="4" height="32" fill="#fff" stroke="#b64342" stroke-width="1"/>
<rect x="284.0" y="713" width="1" height="17" fill="#0aa14b"/>
<rect x="282.0" y="713" width="5" height="15" fill="#0aa14b"/>
<rect x="291.0" y="719" width="1" height="5" fill="#b64342"/>
<rect x="291.0" y="728" width="1" height="4" fill="#b64342"/>
<rect x="289.5" y="724.5" width="4" height="3" fill="#fff" stroke="#b64342" stroke-width="1"/>
<rect x="298.0" y="719" width="1" height="19" fill="#0aa14b"/>
<rect x="296.0" y="722" width="5" height="11" fill="#0aa14b"/>
<rect x="305.0" y="702" width="1" height="14" fill="#b64342"/>
<rect x="305.0" y="732" width="1" height="5" fill="#b64342"/>
<rect x="303.5" y="716.5" width="4" height="15" fill="#fff" stroke="#b64342" stroke-width="1"/>
<rect x="312.0" y="698" width="1" height="11" fill="#b64342"/>
<rect x="312.0" y="715" width="1" height="6" fill="#b64342"/>
<rect x="310.5" y="709.5" width="4" height="5" fill="#fff" stroke="#b64342" stroke-width="1"/>
<rect x="319.0" y="694" width="1" height="5" fill="#b64342"/>
<rect x="319.0" y="706" width="1" height="6" fill="#b64342"/>
<rect x="317.5" y="699.5" width="4" height="6" fill="#fff" stroke="#b64342" stroke-width="1"/>
<rect x="326.0" y="691" width="1" height="4" fill="#b64342"/>
<rect x="326.0" y="706" width="1" height="10" fill="#b64342"/>
<rect x="324.5" y="695.5" width="4" height="10" fill="#fff" stroke="#b64342" stroke-width="1"/>
<rect x="334.0" y="675" width="1" height="30" fill="#0aa14b"/>
<rect x="332.0" y="696" width="5" height="5" fill="#0aa14b"/>
<rect x="341.0" y="690" width="1" height="23" fill="#0aa14b"/>
<rect x="339.0" y="695" width="5" height="16" fill="#0aa14b"/>
<rect x="348.0" y="710" width="1" height="21" fill="#0aa14b"/>
<rect x="346.0" y="712" width="5" height="10" fill="#0aa14b"/>
<rect x="355.0" y="696" width="1" height="7" fill="#b64342"/>
<rect x="355.0" y="712" width="1" height="3" fill="#b64342"/>
<rect x="353.5" y="703.5" width="4" height="8" fill="#fff" stroke="#b64342" stroke-width="1"/>
<rect x="362.0" y="694" width="1" height="5" fill="#b64342"/>
<rect x="362.0" y="702" width="1" height="8" fill="#b64342"/>
<rect x="360.5" y="699.5" width="4" height="2" fill="#fff" stroke="#b64342" stroke-width="1"/>
<rect x="369.0" y="692" width="1" height="2" fill="#b64342"/>
<rect x="369.0" y="702" width="1" height="10" fill="#b64342"/>
<rect x="367.5" y="694.5" width="4" height="7" fill="#fff" stroke="#b64342" stroke-width="1"/>
<rect x="376.0" y="686" width="1" height="5" fill="#b64342"/>
<rect x="376.0" y="696" width="1" height="6" fill="#b64342"/>
<rect x="374.5" y="691.5" width="4" height="4" fill="#fff" stroke="#b64342" stroke-width="1"/>
<rect x="383.0" y="682" width="1" height="4" fill="#b64342"/>
<rect x="383.0" y="691" width="1" height="10" fill="#b64342"/>
<rect x="381.5" y="686.5" width="4" height="4" fill="#fff" stroke="#b64342" stroke-width="1"/>
<rect x="391.0" y="655" width="1" height="17" fill="#b64342"/>
<rect x="391.0" y="683" width="1" height="1" fill="#b64342"/>
<rect x="389.5" y="672.5" width="4" height="10" fill="#fff" stroke="#b64342" stroke-width="1"/>
<rect x="398.0" y="667" width="1" height="26" fill="#0aa14b"/>
<rect x="396.0" y="671" width="5" height="6" fill="#0aa14b"/>
<rect x="405.0" y="665" width="1" height="27" fill="#0aa14b"/>
<rect x="403.0" y="675" width="5" height="7" fill="#0aa14b"/>
<rect x="412.0" y="669" width="1" height="20" fill="#0aa14b"/>
<rect x="410.0" y="679" width="5" height="3" fill="#0aa14b"/>
<rect x="419.0" y="676" width="1" height="26" fill="#0aa14b"/>
<rect x="417.0" y="680" width="5" height="17" fill="#0aa14b"/>
<rect x="426.0" y="679" width="1" height="72" fill="#0aa14b"/>
<rect x="424.0" y="694" width="5" height="56" fill="#0aa14b"/>
<rect x="433.0" y="708" width="1" height="5" fill="#b64342"/>
<rect x="431.5" y="713.5" width="4" height="23" fill="#fff" stroke="#b64342" stroke-width="1"/>
<rect x="440.0" y="686" width="1" height="15" fill="#b64342"/>
<rect x="440.0" y="726" width="1" height="25" fill="#b64342"/>
<rect x="438.5" y="701.5" width="4" height="24" fill="#fff" stroke="#b64342" stroke-width="1"/>
<rect x="448.0" y="676" width="1" height="41" fill="#0aa14b"/>
<rect x="446.0" y="695" width="5" height="8" fill="#0aa14b"/>
<rect x="455.0" y="692" width="1" height="40" fill="#0aa14b"/>
<rect x="453.0" y="700" width="5" height="21" fill="#0aa14b"/>
<rect x="462.0" y="698" width="1" height="8" fill="#b64342"/>
<rect x="460.5" y="706.5" width="4" height="20" fill="#fff" stroke="#b64342" stroke-width="1"/>
<rect x="469.0" y="672" width="1" height="4" fill="#b64342"/>
<rect x="467.5" y="676.5" width="4" height="23" fill="#fff" stroke="#b64342" stroke-width="1"/>
<rect x="476.0" y="650" width="1" height="12" fill="#b64342"/>
<rect x="476.0" y="676" width="1" height="1" fill="#b64342"/>
<rect x="474.5" y="662.5" width="4" height="13" fill="#fff" stroke="#b64342" stroke-width="1"/>
<rect x="483.0" y="661" width="1" height="30" fill="#0aa14b"/>
<rect x="481.0" y="661" width="5" height="22" fill="#0aa14b"/>
<rect x="490.0" y="669" width="1" height="5" fill="#b64342"/>
<rect x="490.0" y="687" width="1" height="2" fill="#b64342"/>
<rect x="488.5" y="674.5" width="4" height="12" fill="#fff" stroke="#b64342" stroke-width="1"/>
<rect x="497.0" y="638" width="1" height="7" fill="#b64342"/>
<rect x="495.5" y="645.5" width="4" height="24" fill="#fff" stroke="#b64342" stroke-width="1"/>
<rect x="505.0" y="624" width="1" height="1" fill="#b64342"/>
<rect x="505.0" y="634" width="1" height="2" fill="#b64342"/>
<rect x="503.5" y="625.5" width="4" height="8" fill="#fff" stroke="#b64342" stroke-width="1"/>
<rect x="512.0" y="601" width="1" height="17" fill="#0aa14b"/>
<rect x="510.0" y="612" width="5" height="4" fill="#0aa14b"/>
<rect x="519.0" y="595" width="1" height="37" fill="#0aa14b"/>
<rect x="517.0" y="613" width="5" height="8" fill="#0aa14b"/>
<rect x="526.0" y="597" width="1" height="29" fill="#b64342"/>
<rect x="526.0" y="632" width="1" height="4" fill="#b64342"/>
<rect x="524.5" y="626.5" width="4" height="5" fill="#fff" stroke="#b64342" stroke-width="1"/>
<rect x="533.0" y="614" width="1" height="24" fill="#0aa14b"/>
<rect x="531.0" y="618" width="5" height="7" fill="#0aa14b"/>
<rect x="540.0" y="616" width="1" height="34" fill="#0aa14b"/>
<rect x="538.0" y="616" width="5" height="22" fill="#0aa14b"/>
<rect x="547.0" y="641" width="1" height="25" fill="#0aa14b"/>
<rect x="545.0" y="649" width="5" height="4" fill="#0aa14b"/>
<rect x="554.0" y="630" width="1" height="9" fill="#b64342"/>
<rect x="554.0" y="653" width="1" height="3" fill="#b64342"/>
<rect x="552.5" y="639.5" width="4" height="13" fill="#fff" stroke="#b64342" stroke-width="1"/>
<rect x="562.0" y="636" width="1" height="35" fill="#0aa14b"/>
<rect x="560.0" y="642" width="5" height="22" fill="#0aa14b"/>
<rect x="569.0" y="657" width="1" height="1" fill="#b64342"/>
<rect x="569.0" y="671" width="1" height="18" fill="#b64342"/>
<rect x="567.5" y="658.5" width="4" height="12" fill="#fff" stroke="#b64342" stroke-width="1"/>
<rect x="576.0" y="633" width="1" height="2" fill="#b64342"/>
<rect x="576.0" y="653" width="1" height="9" fill="#b64342"/>
<rect x="574.5" y="635.5" width="4" height="17" fill="#fff" stroke="#b64342" stroke-width="1"/>
<rect x="583.0" y="599" width="1" height="3" fill="#b64342"/>
<rect x="581.5" y="602.5" width="4" height="32" fill="#fff" stroke="#b64342" stroke-width="1"/>
<rect x="590.0" y="572" width="1" height="10" fill="#b64342"/>
<rect x="588.5" y="582.5" width="4" height="15" fill="#fff" stroke="#b64342" stroke-width="1"/>
<rect x="597.0" y="584" width="1" height="50" fill="#0aa14b"/>
<rect x="595.0" y="587" width="5" height="44" fill="#0aa14b"/>
<rect x="604.0" y="635" width="1" height="32" fill="#0aa14b"/>
<rect x="602.0" y="644" width="5" height="6" fill="#0aa14b"/>
<rect x="611.0" y="645" width="1" height="48" fill="#0aa14b"/>
<rect x="609.0" y="653" width="5" height="30" fill="#0aa14b"/>
<rect x="619.0" y="695" width="1" height="29" fill="#0aa14b"/>
<rect x="617.0" y="696" width="5" height="17" fill="#0aa14b"/>
<rect x="626.0" y="700" width="1" height="9" fill="#b64342"/>
<rect x="626.0" y="712" width="1" height="12" fill="#b64342"/>
<rect x="624.5" y="709.5" width="4" height="2" fill="#fff" stroke="#b64342" stroke-width="1"/>
<rect x="633.0" y="666" width="1" height="69" fill="#0aa14b"/>
<rect x="631.0" y="684" width="5" height="49" fill="#0aa14b"/>
<rect x="640.0" y="683" width="1" height="21" fill="#b64342"/>
<rect x="640.0" y="730" width="1" height="2" fill="#b64342"/>
<rect x="638.5" y="704.5" width="4" height="25" fill="#fff" stroke="#b64342" stroke-width="1"/>
<rect x="647.0" y="682" width="1" height="10" fill="#b64342"/>
<rect x="647.0" y="697" width="1" height="15" fill="#b64342"/>
<rect x="645.5" y="692.5" width="4" height="4" fill="#fff" stroke="#b64342" stroke-width="1"/>
<rect x="654.0" y="647" width="1" height="4" fill="#b64342"/>
<rect x="654.0" y="690" width="1" height="8" fill="#b64342"/>
<rect x="652.5" y="651.5" width="4" height="38" fill="#fff" stroke="#b64342" stroke-width="1"/>
<rect x="661.0" y="623" width="1" height="9" fill="#b64342"/>
<rect x="659.5" y="632.5" width="4" height="14" fill="#fff" stroke="#b64342" stroke-width="1"/>
<rect x="668.0" y="612" width="1" height="3" fill="#b64342"/>
<rect x="668.0" y="630" width="1" height="1" fill="#b64342"/>
<rect x="666.5" y="615.5" width="4" height="14" fill="#fff" stroke="#b64342" stroke-width="1"/>
<rect x="676.0" y="617" width="1" height="25" fill="#0aa14b"/>
<rect x="674.0" y="623" width="5" height="18" fill="#0aa14b"/>
<rect x="683.0" y="622" width="1" height="7" fill="#b64342"/>
<rect x="683.0" y="633" width="1" height="10" fill="#b64342"/>
<rect x="681.5" y="629.5" width="4" height="3" fill="#fff" stroke="#b64342" stroke-width="1"/>
<rect x="690.0" y="599" width="1" height="6" fill="#b64342"/>
<rect x="688.5" y="605.5" width="4" height="30" fill="#fff" stroke="#b64342" stroke-width="1"/>
<rect x="697.0" y="595" width="1" height="22" fill="#0aa14b"/>
<rect x="695.0" y="604" width="5" height="3" fill="#0aa14b"/>
<rect x="704.0" y="589" width="1" height="11" fill="#b64342"/>
<rect x="704.0" y="606" width="1" height="1" fill="#b64342"/>
<rect x="702.5" y="600.5" width="4" height="5" fill="#fff" stroke="#b64342" stroke-width="1"/>
<rect x="711.0" y="599" width="1" height="23" fill="#0aa14b"/>
<rect x="709.0" y="599" width="5" height="15" fill="#0aa14b"/>
<rect x="718.0" y="600" width="1" height="26" fill="#0aa14b"/>
<rect x="716.0" y="614" width="5" height="11" fill="#0aa14b"/>
<rect x="725.0" y="586" width="1" height="8" fill="#b64342"/>
<rect x="725.0" y="624" width="1" height="7" fill="#b64342"/>
<rect x="723.5" y="594.5" width="4" height="29" fill="#fff" stroke="#b64342" stroke-width="1"/>
<rect x="733.0" y="552" width="1" height="3" fill="#b64342"/>
<rect x="731.5" y="555.5" width="4" height="38" fill="#fff" stroke="#b64342" stroke-width="1"/>
<rect x="740.0" y="544" width="1" height="34" fill="#0aa14b"/>
<rect x="738.0" y="556" width="5" height="15" fill="#0aa14b"/>
<rect x="747.0" y="557" width="1" height="25" fill="#0aa14b"/>
<rect x="745.0" y="562" width="5" height="12" fill="#0aa14b"/>
<rect x="754.0" y="570" width="1" height="32" fill="#0aa14b"/>
<rect x="752.0" y="575" width="5" height="17" fill="#0aa14b"/>
<rect x="761.0" y="574" width="1" height="33" fill="#0aa14b"/>
<rect x="759.0" y="590" width="5" height="15" fill="#0aa14b"/>
<rect x="768.0" y="576" width="1" height="32" fill="#0aa14b"/>
<rect x="766.0" y="591" width="5" height="10" fill="#0aa14b"/>
<rect x="775.0" y="580" width="1" height="9" fill="#b64342"/>
<rect x="773.5" y="589.5" width="4" height="10" fill="#fff" stroke="#b64342" stroke-width="1"/>
<rect x="782.0" y="570" width="1" height="6" fill="#b64342"/>
<rect x="782.0" y="586" width="1" height="2" fill="#b64342"/>
<rect x="780.5" y="576.5" width="4" height="9" fill="#fff" stroke="#b64342" stroke-width="1"/>
<rect x="790.0" y="566" width="1" height="5" fill="#b64342"/>
<rect x="790.0" y="579" width="1" height="4" fill="#b64342"/>
<rect x="788.5" y="571.5" width="4" height="7" fill="#fff" stroke="#b64342" stroke-width="1"/>
<rect x="797.0" y="551" width="1" height="3" fill="#b64342"/>
<rect x="797.0" y="573" width="1" height="2" fill="#b64342"/>
<rect x="795.5" y="554.5" width="4" height="18" fill="#fff" stroke="#b64342" stroke-width="1"/>
<rect x="804.0" y="551" width="1" height="12" fill="#0aa14b"/>
<rect x="802.0" y="555" width="5" height="3" fill="#0aa14b"/>
</g>
<line x1="74" y1="555.5" x2="841" y2="555.5" stroke="#e98f4d" stroke-width="1" stroke-dasharray="5 2" shape-rendering="crispEdges"/>
<rect x="5" y="544" width="69" height="22" fill="#dceafa"/>
<text x="5" y="560.5" class="ax" style="fill:#0c9a4a">48710.97</text>
<rect x="841" y="544" width="74" height="22" fill="#dceafa"/>
<text x="852.5" y="560.5" class="ax" style="fill:#0c9a4a">48710.97</text>
<line x1="703" y1="533.5" x2="740.5" y2="543.5" stroke="#e8e9ec" stroke-width="1"/>
<text x="644.5" y="538" class="ax" style="fill:#70747c">48886.86</text>
<line x1="77.5" y1="878.5" x2="113" y2="890" stroke="#e8e9ec" stroke-width="1"/>
<text x="114.5" y="895" class="ax" style="fill:#70747c">43340.68</text>
<text x="11" y="494.5" class="tt"><tspan class="cj">道琼斯指数（</tspan><tspan class="la">.DJI</tspan><tspan class="cj">）</tspan></text>
<text x="153.5" y="495" class="pr" style="fill:#0c9a4a">48710.97</text>
<text x="229.5" y="495" class="pr" style="fill:#0c9a4a">-20.19</text>
<text x="284.5" y="495" class="pr" style="fill:#0c9a4a">-0.04%</text>
<rect x="890" y="480" width="20" height="20" rx="3" fill="#f4465f"/>
<path transform="translate(900,490.3)" d="M0 6.2 C-2 4.4 -7.2 1 -7.2 -2.6 C-7.2 -4.9 -5.5 -6.4 -3.6 -6.4 C-2.1 -6.4 -0.8 -5.6 0 -4.3 C0.8 -5.6 2.1 -6.4 3.6 -6.4 C5.5 -6.4 7.2 -4.9 7.2 -2.6 C7.2 1 2 4.4 0 6.2Z" fill="#fdeef0"/>
<rect x="11.5" y="929.5" width="49" height="20" fill="#fff" stroke="#b4b6ba" stroke-width="1" shape-rendering="crispEdges"/>
<text x="13.5" y="945.4" class="fq">前复权</text>
</g>
<g id="p4">
<rect x="991" y="529" width="767" height="1" fill="#f0f1f3"/>
<rect x="991" y="570" width="767" height="1" fill="#f0f1f3"/>
<rect x="991" y="611" width="767" height="1" fill="#f0f1f3"/>
<rect x="991" y="652" width="767" height="1" fill="#f0f1f3"/>
<rect x="991" y="693" width="767" height="1" fill="#f0f1f3"/>
<rect x="991" y="734" width="767" height="1" fill="#f0f1f3"/>
<rect x="991" y="775" width="767" height="1" fill="#f0f1f3"/>
<rect x="991" y="816" width="767" height="1" fill="#f0f1f3"/>
<rect x="991" y="857" width="767" height="1" fill="#f0f1f3"/>
<rect x="991" y="898" width="767" height="1" fill="#f0f1f3"/>
<rect x="1000" y="504" width="1" height="425" fill="#f0f1f3"/>
<rect x="1150" y="504" width="1" height="425" fill="#f0f1f3"/>
<rect x="1299" y="504" width="1" height="425" fill="#f0f1f3"/>
<rect x="1463" y="504" width="1" height="425" fill="#f0f1f3"/>
<rect x="1599" y="504" width="1" height="425" fill="#f0f1f3"/>
<rect x="991.5" y="504.5" width="767" height="425" fill="none" stroke="#e8eaed" stroke-width="1"/>
<g>
<text x="928.5" y="535" class="ax">9000.00</text>
<text x="928.5" y="576" class="ax">8800.00</text>
<text x="928.5" y="617" class="ax">8600.00</text>
<text x="928.5" y="658" class="ax">8400.00</text>
<text x="928.5" y="699" class="ax">8200.00</text>
<text x="928.5" y="740" class="ax">8000.00</text>
<text x="928.5" y="781" class="ax">7800.00</text>
<text x="928.5" y="822" class="ax">7600.00</text>
<text x="928.5" y="863" class="ax">7400.00</text>
<text x="928.5" y="904" class="ax">7200.00</text>
</g>
<text x="1770.5" y="535" class="ax">9000.00</text>
<text x="1770.5" y="576" class="ax">8800.00</text>
<text x="1770.5" y="617" class="ax">8600.00</text>
<text x="1770.5" y="658" class="ax">8400.00</text>
<text x="1770.5" y="699" class="ax">8200.00</text>
<text x="1770.5" y="740" class="ax">8000.00</text>
<text x="1770.5" y="781" class="ax">7800.00</text>
<text x="1770.5" y="822" class="ax">7600.00</text>
<text x="1770.5" y="863" class="ax">7400.00</text>
<text x="1770.5" y="904" class="ax">7200.00</text>
<text x="1002.5" y="945.7" class="ax">2025/08</text>
<text x="1152.5" y="945.7" class="ax">9</text>
<text x="1302" y="945.7" class="ax">10</text>
<text x="1465.5" y="945.7" class="ax">11</text>
<text x="1601.5" y="945.7" class="ax">12</text>
<g shape-rendering="crispEdges">
<rect x="993.0" y="835" width="1" height="9" fill="#b64342"/>
<rect x="993.0" y="859" width="1" height="7" fill="#b64342"/>
<rect x="991.5" y="844.5" width="4" height="14" fill="#fff" stroke="#b64342" stroke-width="1"/>
<rect x="1000.0" y="868" width="1" height="4" fill="#b64342"/>
<rect x="1000.0" y="875" width="1" height="13" fill="#b64342"/>
<rect x="998.5" y="872.5" width="4" height="2" fill="#fff" stroke="#b64342" stroke-width="1"/>
<rect x="1007.0" y="844" width="1" height="8" fill="#b64342"/>
<rect x="1007.0" y="855" width="1" height="5" fill="#b64342"/>
<rect x="1005.5" y="852.5" width="4" height="2" fill="#fff" stroke="#b64342" stroke-width="1"/>
<rect x="1014.0" y="840" width="1" height="23" fill="#0aa14b"/>
<rect x="1012.0" y="844" width="5" height="17" fill="#0aa14b"/>
<rect x="1022.0" y="844" width="1" height="2" fill="#b64342"/>
<rect x="1022.0" y="855" width="1" height="5" fill="#b64342"/>
<rect x="1020.5" y="846.5" width="4" height="8" fill="#fff" stroke="#b64342" stroke-width="1"/>
<rect x="1029.0" y="826" width="1" height="5" fill="#b64342"/>
<rect x="1029.0" y="835" width="1" height="4" fill="#b64342"/>
<rect x="1027.5" y="831.5" width="4" height="3" fill="#fff" stroke="#b64342" stroke-width="1"/>
<rect x="1036.0" y="832" width="1" height="15" fill="#0aa14b"/>
<rect x="1034.0" y="835" width="5" height="4" fill="#0aa14b"/>
<rect x="1043.0" y="825" width="1" height="22" fill="#0aa14b"/>
<rect x="1041.0" y="829" width="5" height="12" fill="#0aa14b"/>
<rect x="1050.0" y="813" width="1" height="4" fill="#b64342"/>
<rect x="1050.0" y="833" width="1" height="5" fill="#b64342"/>
<rect x="1048.5" y="817.5" width="4" height="15" fill="#fff" stroke="#b64342" stroke-width="1"/>
<rect x="1057.0" y="780" width="1" height="5" fill="#b64342"/>
<rect x="1057.0" y="790" width="1" height="5" fill="#b64342"/>
<rect x="1055.5" y="785.5" width="4" height="4" fill="#fff" stroke="#b64342" stroke-width="1"/>
<rect x="1064.0" y="805" width="1" height="19" fill="#0aa14b"/>
<rect x="1062.0" y="813" width="5" height="7" fill="#0aa14b"/>
<rect x="1071.0" y="801" width="1" height="6" fill="#b64342"/>
<rect x="1071.0" y="816" width="1" height="2" fill="#b64342"/>
<rect x="1069.5" y="807.5" width="4" height="8" fill="#fff" stroke="#b64342" stroke-width="1"/>
<rect x="1079.0" y="785" width="1" height="22" fill="#0aa14b"/>
<rect x="1077.0" y="787" width="5" height="19" fill="#0aa14b"/>
<rect x="1086.0" y="797" width="1" height="28" fill="#0aa14b"/>
<rect x="1084.0" y="800" width="5" height="20" fill="#0aa14b"/>
<rect x="1093.0" y="812" width="1" height="2" fill="#b64342"/>
<rect x="1093.0" y="825" width="1" height="8" fill="#b64342"/>
<rect x="1091.5" y="814.5" width="4" height="10" fill="#fff" stroke="#b64342" stroke-width="1"/>
<rect x="1100.0" y="787" width="1" height="6" fill="#b64342"/>
<rect x="1098.5" y="793.5" width="4" height="27" fill="#fff" stroke="#b64342" stroke-width="1"/>
<rect x="1107.0" y="744" width="1" height="6" fill="#b64342"/>
<rect x="1107.0" y="788" width="1" height="1" fill="#b64342"/>
<rect x="1105.5" y="750.5" width="4" height="37" fill="#fff" stroke="#b64342" stroke-width="1"/>
<rect x="1114.0" y="722" width="1" height="28" fill="#0aa14b"/>
<rect x="1112.0" y="729" width="5" height="20" fill="#0aa14b"/>
<rect x="1121.0" y="723" width="1" height="13" fill="#b64342"/>
<rect x="1121.0" y="745" width="1" height="3" fill="#b64342"/>
<rect x="1119.5" y="736.5" width="4" height="8" fill="#fff" stroke="#b64342" stroke-width="1"/>
<rect x="1128.0" y="766" width="1" height="21" fill="#0aa14b"/>
<rect x="1126.0" y="767" width="5" height="12" fill="#0aa14b"/>
<rect x="1136.0" y="771" width="1" height="5" fill="#b64342"/>
<rect x="1136.0" y="781" width="1" height="7" fill="#b64342"/>
<rect x="1134.5" y="776.5" width="4" height="4" fill="#fff" stroke="#b64342" stroke-width="1"/>
<rect x="1143.0" y="746" width="1" height="5" fill="#b64342"/>
<rect x="1143.0" y="769" width="1" height="2" fill="#b64342"/>
<rect x="1141.5" y="751.5" width="4" height="17" fill="#fff" stroke="#b64342" stroke-width="1"/>
<rect x="1150.0" y="741" width="1" height="2" fill="#b64342"/>
<rect x="1150.0" y="774" width="1" height="4" fill="#b64342"/>
<rect x="1148.5" y="743.5" width="4" height="30" fill="#fff" stroke="#b64342" stroke-width="1"/>
<rect x="1157.0" y="743" width="1" height="3" fill="#b64342"/>
<rect x="1157.0" y="749" width="1" height="9" fill="#b64342"/>
<rect x="1155.5" y="746.5" width="4" height="2" fill="#fff" stroke="#b64342" stroke-width="1"/>
<rect x="1164.0" y="758" width="1" height="14" fill="#0aa14b"/>
<rect x="1162.0" y="759" width="5" height="6" fill="#0aa14b"/>
<rect x="1171.0" y="737" width="1" height="22" fill="#0aa14b"/>
<rect x="1169.0" y="739" width="5" height="7" fill="#0aa14b"/>
<rect x="1178.0" y="708" width="1" height="4" fill="#b64342"/>
<rect x="1178.0" y="718" width="1" height="13" fill="#b64342"/>
<rect x="1176.5" y="712.5" width="4" height="5" fill="#fff" stroke="#b64342" stroke-width="1"/>
<rect x="1185.0" y="676" width="1" height="11" fill="#b64342"/>
<rect x="1183.5" y="687.5" width="4" height="18" fill="#fff" stroke="#b64342" stroke-width="1"/>
<rect x="1193.0" y="681" width="1" height="31" fill="#0aa14b"/>
<rect x="1191.0" y="684" width="5" height="19" fill="#0aa14b"/>
<rect x="1200.0" y="652" width="1" height="2" fill="#b64342"/>
<rect x="1200.0" y="691" width="1" height="2" fill="#b64342"/>
<rect x="1198.5" y="654.5" width="4" height="36" fill="#fff" stroke="#b64342" stroke-width="1"/>
<rect x="1207.0" y="652" width="1" height="20" fill="#0aa14b"/>
<rect x="1205.0" y="653" width="5" height="4" fill="#0aa14b"/>
<rect x="1214.0" y="632" width="1" height="15" fill="#0aa14b"/>
<rect x="1212.0" y="635" width="5" height="7" fill="#0aa14b"/>
<rect x="1221.0" y="606" width="1" height="5" fill="#b64342"/>
<rect x="1221.0" y="636" width="1" height="6" fill="#b64342"/>
<rect x="1219.5" y="611.5" width="4" height="24" fill="#fff" stroke="#b64342" stroke-width="1"/>
<rect x="1228.0" y="558" width="1" height="2" fill="#b64342"/>
<rect x="1228.0" y="575" width="1" height="13" fill="#b64342"/>
<rect x="1226.5" y="560.5" width="4" height="14" fill="#fff" stroke="#b64342" stroke-width="1"/>
<rect x="1235.0" y="579" width="1" height="21" fill="#0aa14b"/>
<rect x="1233.0" y="588" width="5" height="6" fill="#0aa14b"/>
<rect x="1242.0" y="583" width="1" height="17" fill="#0aa14b"/>
<rect x="1240.0" y="587" width="5" height="11" fill="#0aa14b"/>
<rect x="1250.0" y="588" width="1" height="29" fill="#0aa14b"/>
<rect x="1248.0" y="597" width="5" height="18" fill="#0aa14b"/>
<rect x="1257.0" y="619" width="1" height="37" fill="#0aa14b"/>
<rect x="1255.0" y="629" width="5" height="25" fill="#0aa14b"/>
<rect x="1264.0" y="580" width="1" height="24" fill="#b64342"/>
<rect x="1264.0" y="628" width="1" height="1" fill="#b64342"/>
<rect x="1262.5" y="604.5" width="4" height="23" fill="#fff" stroke="#b64342" stroke-width="1"/>
<rect x="1271.0" y="588" width="1" height="9" fill="#b64342"/>
<rect x="1271.0" y="609" width="1" height="14" fill="#b64342"/>
<rect x="1269.5" y="597.5" width="4" height="11" fill="#fff" stroke="#b64342" stroke-width="1"/>
<rect x="1278.0" y="613" width="1" height="24" fill="#0aa14b"/>
<rect x="1276.0" y="613" width="5" height="13" fill="#0aa14b"/>
<rect x="1285.0" y="578" width="1" height="11" fill="#b64342"/>
<rect x="1285.0" y="595" width="1" height="6" fill="#b64342"/>
<rect x="1283.5" y="589.5" width="4" height="5" fill="#fff" stroke="#b64342" stroke-width="1"/>
<rect x="1292.0" y="573" width="1" height="38" fill="#0aa14b"/>
<rect x="1290.0" y="580" width="5" height="24" fill="#0aa14b"/>
<rect x="1299.0" y="576" width="1" height="2" fill="#b64342"/>
<rect x="1299.0" y="598" width="1" height="3" fill="#b64342"/>
<rect x="1297.5" y="578.5" width="4" height="19" fill="#fff" stroke="#b64342" stroke-width="1"/>
<rect x="1307.0" y="540" width="1" height="31" fill="#0aa14b"/>
<rect x="1305.0" y="557" width="5" height="3" fill="#0aa14b"/>
<rect x="1314.0" y="560" width="1" height="31" fill="#0aa14b"/>
<rect x="1312.0" y="560" width="5" height="21" fill="#0aa14b"/>
<rect x="1321.0" y="552" width="1" height="10" fill="#b64342"/>
<rect x="1321.0" y="582" width="1" height="3" fill="#b64342"/>
<rect x="1319.5" y="562.5" width="4" height="19" fill="#fff" stroke="#b64342" stroke-width="1"/>
<rect x="1328.0" y="557" width="1" height="50" fill="#0aa14b"/>
<rect x="1326.0" y="559" width="5" height="44" fill="#0aa14b"/>
<rect x="1335.0" y="584" width="1" height="3" fill="#b64342"/>
<rect x="1335.0" y="595" width="1" height="10" fill="#b64342"/>
<rect x="1333.5" y="587.5" width="4" height="7" fill="#fff" stroke="#b64342" stroke-width="1"/>
<rect x="1342.0" y="589" width="1" height="41" fill="#0aa14b"/>
<rect x="1340.0" y="590" width="5" height="34" fill="#0aa14b"/>
<rect x="1349.0" y="619" width="1" height="124" fill="#0aa14b"/>
<rect x="1347.0" y="625" width="5" height="106" fill="#0aa14b"/>
<rect x="1356.0" y="671" width="1" height="7" fill="#b64342"/>
<rect x="1356.0" y="688" width="1" height="1" fill="#b64342"/>
<rect x="1354.5" y="678.5" width="4" height="9" fill="#fff" stroke="#b64342" stroke-width="1"/>
<rect x="1364.0" y="692" width="1" height="19" fill="#b64342"/>
<rect x="1364.0" y="721" width="1" height="10" fill="#b64342"/>
<rect x="1362.5" y="711.5" width="4" height="9" fill="#fff" stroke="#b64342" stroke-width="1"/>
<rect x="1371.0" y="664" width="1" height="18" fill="#b64342"/>
<rect x="1371.0" y="685" width="1" height="8" fill="#b64342"/>
<rect x="1369.5" y="682.5" width="4" height="2" fill="#fff" stroke="#b64342" stroke-width="1"/>
<rect x="1378.0" y="681" width="1" height="22" fill="#0aa14b"/>
<rect x="1376.0" y="683" width="5" height="15" fill="#0aa14b"/>
<rect x="1385.0" y="693" width="1" height="6" fill="#b64342"/>
<rect x="1385.0" y="720" width="1" height="2" fill="#b64342"/>
<rect x="1383.5" y="699.5" width="4" height="20" fill="#fff" stroke="#b64342" stroke-width="1"/>
<rect x="1392.0" y="658" width="1" height="2" fill="#b64342"/>
<rect x="1392.0" y="691" width="1" height="5" fill="#b64342"/>
<rect x="1390.5" y="660.5" width="4" height="30" fill="#fff" stroke="#b64342" stroke-width="1"/>
<rect x="1399.0" y="667" width="1" height="20" fill="#0aa14b"/>
<rect x="1397.0" y="668" width="5" height="9" fill="#0aa14b"/>
<rect x="1406.0" y="670" width="1" height="36" fill="#0aa14b"/>
<rect x="1404.0" y="686" width="5" height="7" fill="#0aa14b"/>
<rect x="1413.0" y="654" width="1" height="10" fill="#b64342"/>
<rect x="1413.0" y="675" width="1" height="6" fill="#b64342"/>
<rect x="1411.5" y="664.5" width="4" height="10" fill="#fff" stroke="#b64342" stroke-width="1"/>
<rect x="1421.0" y="647" width="1" height="15" fill="#0aa14b"/>
<rect x="1419.0" y="654" width="5" height="6" fill="#0aa14b"/>
<rect x="1428.0" y="620" width="1" height="14" fill="#0aa14b"/>
<rect x="1426.0" y="629" width="5" height="4" fill="#0aa14b"/>
<rect x="1435.0" y="643" width="1" height="21" fill="#0aa14b"/>
<rect x="1433.0" y="645" width="5" height="9" fill="#0aa14b"/>
<rect x="1442.0" y="635" width="1" height="30" fill="#0aa14b"/>
<rect x="1440.0" y="643" width="5" height="12" fill="#0aa14b"/>
<rect x="1449.0" y="674" width="1" height="16" fill="#0aa14b"/>
<rect x="1447.0" y="684" width="5" height="3" fill="#0aa14b"/>
<rect x="1456.0" y="670" width="1" height="7" fill="#b64342"/>
<rect x="1456.0" y="696" width="1" height="5" fill="#b64342"/>
<rect x="1454.5" y="677.5" width="4" height="18" fill="#fff" stroke="#b64342" stroke-width="1"/>
<rect x="1463.0" y="669" width="1" height="21" fill="#0aa14b"/>
<rect x="1461.0" y="673" width="5" height="3" fill="#0aa14b"/>
<rect x="1470.0" y="686" width="1" height="24" fill="#0aa14b"/>
<rect x="1468.0" y="698" width="5" height="11" fill="#0aa14b"/>
<rect x="1478.0" y="698" width="1" height="7" fill="#b64342"/>
<rect x="1478.0" y="709" width="1" height="10" fill="#b64342"/>
<rect x="1476.5" y="705.5" width="4" height="3" fill="#fff" stroke="#b64342" stroke-width="1"/>
<rect x="1485.0" y="670" width="1" height="44" fill="#0aa14b"/>
<rect x="1483.0" y="688" width="5" height="19" fill="#0aa14b"/>
<rect x="1492.0" y="721" width="1" height="1" fill="#b64342"/>
<rect x="1492.0" y="725" width="1" height="25" fill="#b64342"/>
<rect x="1490.5" y="722.5" width="4" height="2" fill="#fff" stroke="#b64342" stroke-width="1"/>
<rect x="1499.0" y="680" width="1" height="5" fill="#b64342"/>
<rect x="1499.0" y="693" width="1" height="4" fill="#b64342"/>
<rect x="1497.5" y="685.5" width="4" height="7" fill="#fff" stroke="#b64342" stroke-width="1"/>
<rect x="1506.0" y="671" width="1" height="23" fill="#0aa14b"/>
<rect x="1504.0" y="675" width="5" height="12" fill="#0aa14b"/>
<rect x="1513.0" y="686" width="1" height="31" fill="#0aa14b"/>
<rect x="1511.0" y="688" width="5" height="23" fill="#0aa14b"/>
<rect x="1520.0" y="702" width="1" height="43" fill="#0aa14b"/>
<rect x="1518.0" y="710" width="5" height="28" fill="#0aa14b"/>
<rect x="1527.0" y="730" width="1" height="39" fill="#0aa14b"/>
<rect x="1525.0" y="760" width="5" height="4" fill="#0aa14b"/>
<rect x="1535.0" y="759" width="1" height="27" fill="#0aa14b"/>
<rect x="1533.0" y="763" width="5" height="21" fill="#0aa14b"/>
<rect x="1542.0" y="768" width="1" height="8" fill="#b64342"/>
<rect x="1542.0" y="809" width="1" height="1" fill="#b64342"/>
<rect x="1540.5" y="776.5" width="4" height="32" fill="#fff" stroke="#b64342" stroke-width="1"/>
<rect x="1549.0" y="790" width="1" height="18" fill="#0aa14b"/>
<rect x="1547.0" y="790" width="5" height="11" fill="#0aa14b"/>
<rect x="1556.0" y="782" width="1" height="72" fill="#0aa14b"/>
<rect x="1554.0" y="792" width="5" height="61" fill="#0aa14b"/>
<rect x="1563.0" y="817" width="1" height="17" fill="#b64342"/>
<rect x="1563.0" y="853" width="1" height="7" fill="#b64342"/>
<rect x="1561.5" y="834.5" width="4" height="18" fill="#fff" stroke="#b64342" stroke-width="1"/>
<rect x="1570.0" y="787" width="1" height="3" fill="#b64342"/>
<rect x="1568.5" y="790.5" width="4" height="22" fill="#fff" stroke="#b64342" stroke-width="1"/>
<rect x="1577.0" y="776" width="1" height="17" fill="#0aa14b"/>
<rect x="1575.0" y="782" width="5" height="4" fill="#0aa14b"/>
<rect x="1584.0" y="773" width="1" height="24" fill="#0aa14b"/>
<rect x="1582.0" y="784" width="5" height="4" fill="#0aa14b"/>
<rect x="1592.0" y="770" width="1" height="6" fill="#b64342"/>
<rect x="1592.0" y="779" width="1" height="2" fill="#b64342"/>
<rect x="1590.5" y="776.5" width="4" height="2" fill="#fff" stroke="#b64342" stroke-width="1"/>
<rect x="1599.0" y="752" width="1" height="10" fill="#b64342"/>
<rect x="1599.0" y="774" width="1" height="2" fill="#b64342"/>
<rect x="1597.5" y="762.5" width="4" height="11" fill="#fff" stroke="#b64342" stroke-width="1"/>
<rect x="1606.0" y="767" width="1" height="17" fill="#0aa14b"/>
<rect x="1604.0" y="769" width="5" height="5" fill="#0aa14b"/>
<rect x="1613.0" y="781" width="1" height="18" fill="#0aa14b"/>
<rect x="1611.0" y="783" width="5" height="13" fill="#0aa14b"/>
<rect x="1620.0" y="782" width="1" height="13" fill="#0aa14b"/>
<rect x="1618.0" y="788" width="5" height="3" fill="#0aa14b"/>
<rect x="1627.0" y="762" width="1" height="6" fill="#b64342"/>
<rect x="1627.0" y="773" width="1" height="3" fill="#b64342"/>
<rect x="1625.5" y="768.5" width="4" height="4" fill="#fff" stroke="#b64342" stroke-width="1"/>
<rect x="1634.0" y="761" width="1" height="12" fill="#0aa14b"/>
<rect x="1632.0" y="765" width="5" height="4" fill="#0aa14b"/>
<rect x="1641.0" y="786" width="1" height="3" fill="#b64342"/>
<rect x="1641.0" y="792" width="1" height="10" fill="#b64342"/>
<rect x="1639.5" y="789.5" width="4" height="2" fill="#fff" stroke="#b64342" stroke-width="1"/>
<rect x="1649.0" y="771" width="1" height="8" fill="#b64342"/>
<rect x="1649.0" y="787" width="1" height="1" fill="#b64342"/>
<rect x="1647.5" y="779.5" width="4" height="7" fill="#fff" stroke="#b64342" stroke-width="1"/>
<rect x="1656.0" y="775" width="1" height="5" fill="#b64342"/>
<rect x="1656.0" y="784" width="1" height="15" fill="#b64342"/>
<rect x="1654.5" y="780.5" width="4" height="3" fill="#fff" stroke="#b64342" stroke-width="1"/>
<rect x="1663.0" y="759" width="1" height="31" fill="#0aa14b"/>
<rect x="1661.0" y="769" width="5" height="17" fill="#0aa14b"/>
<rect x="1670.0" y="790" width="1" height="30" fill="#0aa14b"/>
<rect x="1668.0" y="791" width="5" height="29" fill="#0aa14b"/>
<rect x="1677.0" y="823" width="1" height="2" fill="#b64342"/>
<rect x="1677.0" y="832" width="1" height="5" fill="#b64342"/>
<rect x="1675.5" y="825.5" width="4" height="6" fill="#fff" stroke="#b64342" stroke-width="1"/>
<rect x="1684.0" y="807" width="1" height="32" fill="#0aa14b"/>
<rect x="1682.0" y="815" width="5" height="22" fill="#0aa14b"/>
<rect x="1691.0" y="809" width="1" height="12" fill="#b64342"/>
<rect x="1691.0" y="824" width="1" height="1" fill="#b64342"/>
<rect x="1689.5" y="821.5" width="4" height="2" fill="#fff" stroke="#b64342" stroke-width="1"/>
<rect x="1698.0" y="795" width="1" height="13" fill="#b64342"/>
<rect x="1698.0" y="815" width="1" height="1" fill="#b64342"/>
<rect x="1696.5" y="808.5" width="4" height="6" fill="#fff" stroke="#b64342" stroke-width="1"/>
<rect x="1706.0" y="794" width="1" height="4" fill="#b64342"/>
<rect x="1706.0" y="805" width="1" height="2" fill="#b64342"/>
<rect x="1704.5" y="798.5" width="4" height="6" fill="#fff" stroke="#b64342" stroke-width="1"/>
<rect x="1713.0" y="803" width="1" height="16" fill="#0aa14b"/>
<rect x="1711.0" y="805" width="5" height="4" fill="#0aa14b"/>
<rect x="1720.0" y="804" width="1" height="5" fill="#b64342"/>
<rect x="1720.0" y="812" width="1" height="2" fill="#b64342"/>
<rect x="1718.5" y="809.5" width="4" height="2" fill="#fff" stroke="#b64342" stroke-width="1"/>
<rect x="1727.0" y="795" width="1" height="2" fill="#b64342"/>
<rect x="1727.0" y="806" width="1" height="2" fill="#b64342"/>
<rect x="1725.5" y="797.5" width="4" height="8" fill="#fff" stroke="#b64342" stroke-width="1"/>
</g>
<line x1="991" y1="798.5" x2="1758" y2="798.5" stroke="#e98f4d" stroke-width="1" stroke-dasharray="5 2" shape-rendering="crispEdges"/>
<rect x="920" y="787" width="71" height="22" fill="#dceafa"/>
<text x="928.5" y="803.5" class="ax" style="fill:#d9363e">7688.53</text>
<rect x="1758" y="787" width="75" height="22" fill="#dceafa"/>
<text x="1769.5" y="803.5" class="ax" style="fill:#d9363e">7688.53</text>
<line x1="1308" y1="539.5" x2="1343" y2="529.5" stroke="#e8e9ec" stroke-width="1"/>
<text x="1344.5" y="534.5" class="ax" style="fill:#70747c">8945.20</text>
<line x1="1000.5" y1="888" x2="1036" y2="900" stroke="#e8e9ec" stroke-width="1"/>
<text x="1037" y="905.5" class="ax" style="fill:#70747c">7252.21</text>
<text x="927.5" y="494.5" class="tt"><tspan class="cj">纳斯达克中国金龙指数（</tspan><tspan class="la">.HXC</tspan><tspan class="cj">）</tspan></text>
<text x="1153" y="495" class="pr" style="fill:#d9363e">7688.53</text>
<text x="1219" y="495" class="pr" style="fill:#d9363e">+54.70</text>
<text x="1278" y="495" class="pr" style="fill:#d9363e">+0.72%</text>
<rect x="1807" y="480" width="20" height="20" rx="3" fill="#f4465f"/>
<path transform="translate(1817,490.3)" d="M0 6.2 C-2 4.4 -7.2 1 -7.2 -2.6 C-7.2 -4.9 -5.5 -6.4 -3.6 -6.4 C-2.1 -6.4 -0.8 -5.6 0 -4.3 C0.8 -5.6 2.1 -6.4 3.6 -6.4 C5.5 -6.4 7.2 -4.9 7.2 -2.6 C7.2 1 2 4.4 0 6.2Z" fill="#fdeef0"/>
<rect x="927.5" y="929.5" width="49" height="20" fill="#fff" stroke="#b4b6ba" stroke-width="1" shape-rendering="crispEdges"/>
<text x="929.5" y="945.4" class="fq">前复权</text>
</g>
<g><rect x="1.8" y="0" width="1.4" height="476" fill="#cf8550"/><rect x="916.8" y="0" width="1.3" height="476" fill="#cf8550"/><rect x="1.8" y="474.6" width="916.3" height="1.4" fill="#cf8550"/></g>
<g style="filter:drop-shadow(0.8px 0.8px 0.8px rgba(60,60,70,0.45))">
<path transform="translate(1743.5,918.5)" d="M5 0 H25 V7.5 H8.5 V18.5 H18 V14.5 H11.5 L9 11 H25.5 V26 H5 Q0 26 0 21 V5 Q0 0 5 0Z" fill="#fff"/>
<text transform="translate(1776.5,941.5) scale(0.86,1)" class="wm">格隆汇</text>
</g>
</svg></body></html>
